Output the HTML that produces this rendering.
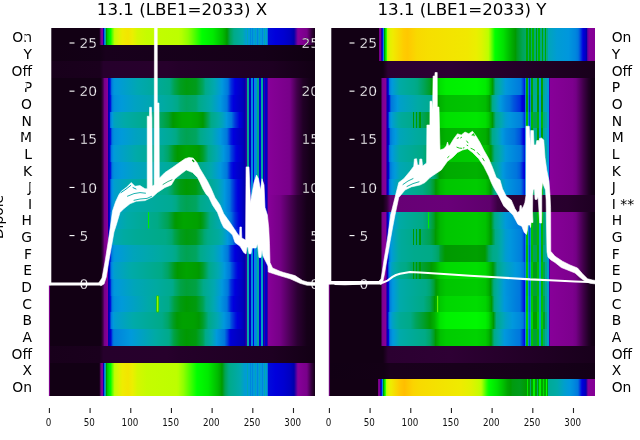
<!DOCTYPE html>
<html lang="en"><head><meta charset="utf-8"><title>13.1 (LBE1=2033)</title>
<style>
html,body{margin:0;padding:0;background:#fff}
body{width:640px;height:440px;overflow:hidden;position:relative}
svg{position:absolute;left:0;top:0;display:block;will-change:transform;-webkit-font-smoothing:antialiased}
text{font-family:"DejaVu Sans","Liberation Sans",sans-serif}
.yl{font-size:13.89px;fill:#000}
.wl{font-size:13.89px;fill:#fff;stroke:#14001a;stroke-width:.3px}
.xl{font-size:9.72px;fill:#111;text-anchor:middle}
.tt{font-size:16.67px;fill:#000;text-anchor:middle}
</style></head><body>
<svg width="640" height="440" viewBox="0 0 640 440">
<defs>
<linearGradient id="l0" gradientUnits="userSpaceOnUse" x1="49" y1="0" x2="315" y2="0"><stop offset="0" stop-color="#120014"/><stop offset="0.188" stop-color="#120014"/><stop offset="0.1898" stop-color="#1d0021"/><stop offset="0.1917" stop-color="#37003f"/><stop offset="0.1955" stop-color="#780089"/><stop offset="0.1992" stop-color="#830094"/><stop offset="0.2011" stop-color="#7f009a"/><stop offset="0.203" stop-color="#5200a0"/><stop offset="0.2049" stop-color="#0000b4"/><stop offset="0.2068" stop-color="#00d"/><stop offset="0.2086" stop-color="#07d"/><stop offset="0.2105" stop-color="#09d"/><stop offset="0.2124" stop-color="#00aaa3"/><stop offset="0.2162" stop-color="#009b00"/><stop offset="0.2199" stop-color="#00c900"/><stop offset="0.2274" stop-color="#00f100"/><stop offset="0.2312" stop-color="#00fc00"/><stop offset="0.2331" stop-color="#0fff00"/><stop offset="0.2368" stop-color="#4bff00"/><stop offset="0.2462" stop-color="#b8ff00"/><stop offset="0.25" stop-color="#c4fc00"/><stop offset="0.2632" stop-color="#dff300"/><stop offset="0.2763" stop-color="#efec00"/><stop offset="0.297" stop-color="#f3e500"/><stop offset="0.3139" stop-color="#ebef00"/><stop offset="0.3327" stop-color="#d4f700"/><stop offset="0.3684" stop-color="#c5fc00"/><stop offset="0.4868" stop-color="#bdfe00"/><stop offset="0.4981" stop-color="#b4ff00"/><stop offset="0.5226" stop-color="#90ff00"/><stop offset="0.5357" stop-color="#70ff00"/><stop offset="0.5752" stop-color="#0f0"/><stop offset="0.6165" stop-color="#00ea00"/><stop offset="0.6523" stop-color="#00bc00"/><stop offset="0.6617" stop-color="#00ab00"/><stop offset="0.6692" stop-color="#090"/><stop offset="0.6805" stop-color="#00a352"/><stop offset="0.6955" stop-color="#0a8"/><stop offset="0.7274" stop-color="#0aa"/><stop offset="0.7425" stop-color="#009cd3"/><stop offset="0.7444" stop-color="#00a7b4"/><stop offset="0.7481" stop-color="#00a7b4"/><stop offset="0.75" stop-color="#009cd4"/><stop offset="0.7538" stop-color="#009cd5"/><stop offset="0.7556" stop-color="#0085dd"/><stop offset="0.7575" stop-color="#0085dd"/><stop offset="0.7594" stop-color="#009bd6"/><stop offset="0.7632" stop-color="#009bd6"/><stop offset="0.765" stop-color="#0085dd"/><stop offset="0.7669" stop-color="#0085dd"/><stop offset="0.7688" stop-color="#009bd7"/><stop offset="0.7726" stop-color="#009bd7"/><stop offset="0.7744" stop-color="#00a3be"/><stop offset="0.7763" stop-color="#00a3be"/><stop offset="0.7782" stop-color="#009bd8"/><stop offset="0.782" stop-color="#009bd8"/><stop offset="0.7838" stop-color="#0085dd"/><stop offset="0.7857" stop-color="#0085dd"/><stop offset="0.7876" stop-color="#009ad9"/><stop offset="0.7895" stop-color="#009ad9"/><stop offset="0.7914" stop-color="#00a3be"/><stop offset="0.7932" stop-color="#00a3be"/><stop offset="0.7951" stop-color="#009ada"/><stop offset="0.7989" stop-color="#009ada"/><stop offset="0.8008" stop-color="#0085dd"/><stop offset="0.8026" stop-color="#0085dd"/><stop offset="0.8045" stop-color="#009adb"/><stop offset="0.8083" stop-color="#009adb"/><stop offset="0.8102" stop-color="#00a7b4"/><stop offset="0.812" stop-color="#00a7b4"/><stop offset="0.8139" stop-color="#0099dc"/><stop offset="0.8158" stop-color="#0099dc"/><stop offset="0.8177" stop-color="#00a3be"/><stop offset="0.8195" stop-color="#00a3be"/><stop offset="0.8214" stop-color="#0079dd"/><stop offset="0.8233" stop-color="#000bdd"/><stop offset="0.8515" stop-color="#0000dc"/><stop offset="0.8816" stop-color="#0000d1"/><stop offset="0.9079" stop-color="#0000c0"/><stop offset="0.9211" stop-color="#00a"/><stop offset="0.9342" stop-color="#7a009b"/><stop offset="0.938" stop-color="#870099"/><stop offset="0.9662" stop-color="#7a008b"/><stop offset="0.9699" stop-color="#708"/><stop offset="0.9868" stop-color="#36003e"/><stop offset="1" stop-color="#120014"/></linearGradient>
<linearGradient id="r0" gradientUnits="userSpaceOnUse" x1="329" y1="0" x2="595" y2="0"><stop offset="0" stop-color="#120014"/><stop offset="0.1861" stop-color="#120014"/><stop offset="0.1898" stop-color="#708"/><stop offset="0.1955" stop-color="#809"/><stop offset="0.1974" stop-color="#2900a5"/><stop offset="0.1992" stop-color="#0000be"/><stop offset="0.2011" stop-color="#0010dd"/><stop offset="0.203" stop-color="#0067dd"/><stop offset="0.2049" stop-color="#008bdd"/><stop offset="0.2068" stop-color="#00aaa0"/><stop offset="0.2086" stop-color="#090"/><stop offset="0.2124" stop-color="#00e400"/><stop offset="0.2143" stop-color="#00f600"/><stop offset="0.2162" stop-color="#32ff00"/><stop offset="0.218" stop-color="#96ff00"/><stop offset="0.2199" stop-color="#b5ff00"/><stop offset="0.2237" stop-color="#cafa00"/><stop offset="0.2293" stop-color="#e4f100"/><stop offset="0.2406" stop-color="#f0eb00"/><stop offset="0.2801" stop-color="#fecd00"/><stop offset="0.2951" stop-color="#ffc800"/><stop offset="0.3308" stop-color="#f8d900"/><stop offset="0.3759" stop-color="#f6df00"/><stop offset="0.5207" stop-color="#f1e800"/><stop offset="0.5545" stop-color="#eaef00"/><stop offset="0.5733" stop-color="#ddf400"/><stop offset="0.5959" stop-color="#c1fd00"/><stop offset="0.5996" stop-color="#b9ff00"/><stop offset="0.6071" stop-color="#87ff00"/><stop offset="0.6241" stop-color="#0f0"/><stop offset="0.656" stop-color="#00e000"/><stop offset="0.6842" stop-color="#00b100"/><stop offset="0.7011" stop-color="#009a00"/><stop offset="0.7068" stop-color="#009c1b"/><stop offset="0.7274" stop-color="#00a455"/><stop offset="0.7406" stop-color="#00a76d"/><stop offset="0.7425" stop-color="#00a700"/><stop offset="0.7462" stop-color="#00a700"/><stop offset="0.7481" stop-color="#00a76f"/><stop offset="0.7519" stop-color="#00a771"/><stop offset="0.7538" stop-color="#00a700"/><stop offset="0.7575" stop-color="#00a700"/><stop offset="0.7594" stop-color="#00a773"/><stop offset="0.7632" stop-color="#00a874"/><stop offset="0.765" stop-color="#00b400"/><stop offset="0.7707" stop-color="#00b400"/><stop offset="0.7726" stop-color="#00a877"/><stop offset="0.7763" stop-color="#00a879"/><stop offset="0.7782" stop-color="#00a000"/><stop offset="0.7801" stop-color="#00a000"/><stop offset="0.782" stop-color="#00a87a"/><stop offset="0.7857" stop-color="#00a87c"/><stop offset="0.7876" stop-color="#00b400"/><stop offset="0.7932" stop-color="#00b400"/><stop offset="0.7951" stop-color="#00a97f"/><stop offset="0.7989" stop-color="#00a980"/><stop offset="0.8008" stop-color="#00a700"/><stop offset="0.8026" stop-color="#00a700"/><stop offset="0.8045" stop-color="#00a982"/><stop offset="0.8102" stop-color="#00a984"/><stop offset="0.812" stop-color="#00a700"/><stop offset="0.8158" stop-color="#00a700"/><stop offset="0.8177" stop-color="#00aa86"/><stop offset="0.8233" stop-color="#0a8"/><stop offset="0.8252" stop-color="#00a5ba"/><stop offset="0.8571" stop-color="#009cd4"/><stop offset="0.9004" stop-color="#0097dd"/><stop offset="0.9267" stop-color="#0086dd"/><stop offset="0.9361" stop-color="#0079dd"/><stop offset="0.9398" stop-color="#0068dd"/><stop offset="0.9455" stop-color="#0045dd"/><stop offset="0.9549" stop-color="#00d"/><stop offset="0.9662" stop-color="#0000be"/><stop offset="0.968" stop-color="#0000ad"/><stop offset="0.9699" stop-color="#2400a5"/><stop offset="0.9718" stop-color="#5200a0"/><stop offset="0.9774" stop-color="#809"/><stop offset="1" stop-color="#830094"/></linearGradient>
<linearGradient id="l1" gradientUnits="userSpaceOnUse" x1="49" y1="0" x2="315" y2="0"><stop offset="0" stop-color="#120014"/><stop offset="0.1917" stop-color="#130016"/><stop offset="0.2124" stop-color="#18001c"/><stop offset="0.8064" stop-color="#150018"/><stop offset="1" stop-color="#0f0011"/></linearGradient>
<linearGradient id="r1" gradientUnits="userSpaceOnUse" x1="329" y1="0" x2="595" y2="0"><stop offset="0" stop-color="#120014"/><stop offset="0.1861" stop-color="#120014"/><stop offset="0.1898" stop-color="#708"/><stop offset="0.1955" stop-color="#809"/><stop offset="0.1974" stop-color="#2900a5"/><stop offset="0.1992" stop-color="#0000be"/><stop offset="0.2011" stop-color="#0010dd"/><stop offset="0.203" stop-color="#0067dd"/><stop offset="0.2049" stop-color="#008bdd"/><stop offset="0.2068" stop-color="#00aaa0"/><stop offset="0.2086" stop-color="#090"/><stop offset="0.2124" stop-color="#00e400"/><stop offset="0.2143" stop-color="#00f600"/><stop offset="0.2162" stop-color="#32ff00"/><stop offset="0.218" stop-color="#96ff00"/><stop offset="0.2199" stop-color="#b5ff00"/><stop offset="0.2237" stop-color="#cafa00"/><stop offset="0.2293" stop-color="#e4f100"/><stop offset="0.2406" stop-color="#f0eb00"/><stop offset="0.2801" stop-color="#fecd00"/><stop offset="0.2951" stop-color="#ffc800"/><stop offset="0.3308" stop-color="#f8d900"/><stop offset="0.3759" stop-color="#f6df00"/><stop offset="0.5207" stop-color="#f1e800"/><stop offset="0.5545" stop-color="#eaef00"/><stop offset="0.5733" stop-color="#ddf400"/><stop offset="0.5959" stop-color="#c1fd00"/><stop offset="0.5996" stop-color="#b9ff00"/><stop offset="0.6071" stop-color="#87ff00"/><stop offset="0.6241" stop-color="#0f0"/><stop offset="0.656" stop-color="#00e000"/><stop offset="0.6842" stop-color="#00b100"/><stop offset="0.7011" stop-color="#009a00"/><stop offset="0.7068" stop-color="#009c1b"/><stop offset="0.7274" stop-color="#00a455"/><stop offset="0.7406" stop-color="#00a76d"/><stop offset="0.7425" stop-color="#00a700"/><stop offset="0.7462" stop-color="#00a700"/><stop offset="0.7481" stop-color="#00a76f"/><stop offset="0.7519" stop-color="#00a771"/><stop offset="0.7538" stop-color="#00a700"/><stop offset="0.7575" stop-color="#00a700"/><stop offset="0.7594" stop-color="#00a773"/><stop offset="0.7632" stop-color="#00a874"/><stop offset="0.765" stop-color="#00b400"/><stop offset="0.7707" stop-color="#00b400"/><stop offset="0.7726" stop-color="#00a877"/><stop offset="0.7763" stop-color="#00a879"/><stop offset="0.7782" stop-color="#00a000"/><stop offset="0.7801" stop-color="#00a000"/><stop offset="0.782" stop-color="#00a87a"/><stop offset="0.7857" stop-color="#00a87c"/><stop offset="0.7876" stop-color="#00b400"/><stop offset="0.7932" stop-color="#00b400"/><stop offset="0.7951" stop-color="#00a97f"/><stop offset="0.7989" stop-color="#00a980"/><stop offset="0.8008" stop-color="#00a700"/><stop offset="0.8026" stop-color="#00a700"/><stop offset="0.8045" stop-color="#00a982"/><stop offset="0.8102" stop-color="#00a984"/><stop offset="0.812" stop-color="#00a700"/><stop offset="0.8158" stop-color="#00a700"/><stop offset="0.8177" stop-color="#00aa86"/><stop offset="0.8233" stop-color="#0a8"/><stop offset="0.8252" stop-color="#00a5ba"/><stop offset="0.8571" stop-color="#009cd4"/><stop offset="0.9004" stop-color="#0097dd"/><stop offset="0.9267" stop-color="#0086dd"/><stop offset="0.9361" stop-color="#0079dd"/><stop offset="0.9398" stop-color="#0068dd"/><stop offset="0.9455" stop-color="#0045dd"/><stop offset="0.9549" stop-color="#00d"/><stop offset="0.9662" stop-color="#0000be"/><stop offset="0.968" stop-color="#0000ad"/><stop offset="0.9699" stop-color="#2400a5"/><stop offset="0.9718" stop-color="#5200a0"/><stop offset="0.9774" stop-color="#809"/><stop offset="1" stop-color="#830094"/></linearGradient>
<linearGradient id="l2" gradientUnits="userSpaceOnUse" x1="49" y1="0" x2="315" y2="0"><stop offset="0" stop-color="#18001b"/><stop offset="0.1898" stop-color="#1a001d"/><stop offset="0.2049" stop-color="#26002c"/><stop offset="0.4436" stop-color="#27002c"/><stop offset="0.4906" stop-color="#240029"/><stop offset="0.8383" stop-color="#1e0022"/><stop offset="1" stop-color="#120014"/></linearGradient>
<linearGradient id="r2" gradientUnits="userSpaceOnUse" x1="329" y1="0" x2="595" y2="0"><stop offset="0" stop-color="#120014"/><stop offset="0.203" stop-color="#120014"/><stop offset="0.2218" stop-color="#2b0031"/><stop offset="0.453" stop-color="#2e0034"/><stop offset="1" stop-color="#18001b"/></linearGradient>
<linearGradient id="l3" gradientUnits="userSpaceOnUse" x1="49" y1="0" x2="315" y2="0"><stop offset="0" stop-color="#120014"/><stop offset="0.1936" stop-color="#120014"/><stop offset="0.1992" stop-color="#240029"/><stop offset="0.2049" stop-color="#53005f"/><stop offset="0.2086" stop-color="#780089"/><stop offset="0.2199" stop-color="#809"/><stop offset="0.2237" stop-color="#00a"/><stop offset="0.2293" stop-color="#00d"/><stop offset="0.235" stop-color="#006bdd"/><stop offset="0.2368" stop-color="#007edd"/><stop offset="0.2444" stop-color="#0096dd"/><stop offset="0.2575" stop-color="#009ad9"/><stop offset="0.3346" stop-color="#00a8b1"/><stop offset="0.453" stop-color="#0a8"/><stop offset="0.4662" stop-color="#00a55f"/><stop offset="0.4718" stop-color="#00a34e"/><stop offset="0.4944" stop-color="#009d1f"/><stop offset="0.5169" stop-color="#009b0e"/><stop offset="0.5526" stop-color="#009c1b"/><stop offset="0.5789" stop-color="#00a55f"/><stop offset="0.5883" stop-color="#0a8"/><stop offset="0.6222" stop-color="#00a8b1"/><stop offset="0.6504" stop-color="#09d"/><stop offset="0.6729" stop-color="#07d"/><stop offset="0.6842" stop-color="#0030dd"/><stop offset="0.6992" stop-color="#00d"/><stop offset="0.7237" stop-color="#0000c5"/><stop offset="0.735" stop-color="#0000ae"/><stop offset="0.7368" stop-color="#0500a9"/><stop offset="0.7425" stop-color="#3600a3"/><stop offset="0.7444" stop-color="#00aa8f"/><stop offset="0.75" stop-color="#00aa8f"/><stop offset="0.7519" stop-color="#0000be"/><stop offset="0.7575" stop-color="#0000be"/><stop offset="0.7594" stop-color="#008bdd"/><stop offset="0.765" stop-color="#008bdd"/><stop offset="0.7669" stop-color="#00d"/><stop offset="0.7688" stop-color="#00d"/><stop offset="0.7707" stop-color="#008bdd"/><stop offset="0.7801" stop-color="#008bdd"/><stop offset="0.782" stop-color="#0a8"/><stop offset="0.7876" stop-color="#0a8"/><stop offset="0.7895" stop-color="#00d"/><stop offset="0.7951" stop-color="#00d"/><stop offset="0.797" stop-color="#00aa9c"/><stop offset="0.8045" stop-color="#00aa9c"/><stop offset="0.8064" stop-color="#0000c9"/><stop offset="0.8083" stop-color="#0000c9"/><stop offset="0.8102" stop-color="#3600a3"/><stop offset="0.812" stop-color="#0000c9"/><stop offset="0.8177" stop-color="#0000c9"/><stop offset="0.8195" stop-color="#3600a3"/><stop offset="0.8214" stop-color="#3600a3"/><stop offset="0.8233" stop-color="#65009d"/><stop offset="0.8252" stop-color="#870098"/><stop offset="0.9004" stop-color="#79008a"/><stop offset="0.906" stop-color="#708"/><stop offset="0.9323" stop-color="#400049"/><stop offset="0.9549" stop-color="#210026"/><stop offset="0.9793" stop-color="#150018"/><stop offset="1" stop-color="#120014"/></linearGradient>
<linearGradient id="r3" gradientUnits="userSpaceOnUse" x1="329" y1="0" x2="595" y2="0"><stop offset="0" stop-color="#120014"/><stop offset="0.1936" stop-color="#120014"/><stop offset="0.1974" stop-color="#470052"/><stop offset="0.1992" stop-color="#6f007f"/><stop offset="0.2011" stop-color="#7c008d"/><stop offset="0.2049" stop-color="#830094"/><stop offset="0.2143" stop-color="#809"/><stop offset="0.218" stop-color="#00a"/><stop offset="0.2218" stop-color="#0000d3"/><stop offset="0.2237" stop-color="#0018dd"/><stop offset="0.2274" stop-color="#07d"/><stop offset="0.2293" stop-color="#0085dd"/><stop offset="0.2368" stop-color="#09d"/><stop offset="0.265" stop-color="#00aaa6"/><stop offset="0.3214" stop-color="#00aa8c"/><stop offset="0.3327" stop-color="#00a983"/><stop offset="0.3553" stop-color="#00a45b"/><stop offset="0.3797" stop-color="#009e26"/><stop offset="0.3853" stop-color="#009a05"/><stop offset="0.3872" stop-color="#009a00"/><stop offset="0.3985" stop-color="#00ae00"/><stop offset="0.4098" stop-color="#00cd00"/><stop offset="0.4173" stop-color="#00e000"/><stop offset="0.4398" stop-color="#0e0"/><stop offset="0.5545" stop-color="#00f500"/><stop offset="0.5883" stop-color="#00eb00"/><stop offset="0.5996" stop-color="#00d800"/><stop offset="0.6147" stop-color="#009d00"/><stop offset="0.6165" stop-color="#009b10"/><stop offset="0.6241" stop-color="#00a876"/><stop offset="0.6259" stop-color="#00aa8a"/><stop offset="0.6335" stop-color="#00aa9c"/><stop offset="0.6447" stop-color="#00a7b3"/><stop offset="0.6635" stop-color="#009ada"/><stop offset="0.6786" stop-color="#0091dd"/><stop offset="0.7199" stop-color="#007add"/><stop offset="0.7218" stop-color="#07d"/><stop offset="0.7331" stop-color="#0030dd"/><stop offset="0.7368" stop-color="#0010dd"/><stop offset="0.7387" stop-color="#007edd"/><stop offset="0.7406" stop-color="#007edd"/><stop offset="0.7425" stop-color="#00a700"/><stop offset="0.7481" stop-color="#00a700"/><stop offset="0.75" stop-color="#0085dd"/><stop offset="0.7519" stop-color="#0030dd"/><stop offset="0.7538" stop-color="#0030dd"/><stop offset="0.7556" stop-color="#0085dd"/><stop offset="0.7575" stop-color="#0085dd"/><stop offset="0.7594" stop-color="#00a700"/><stop offset="0.765" stop-color="#00a700"/><stop offset="0.7669" stop-color="#00aa8f"/><stop offset="0.7801" stop-color="#00aa8f"/><stop offset="0.782" stop-color="#00a000"/><stop offset="0.7876" stop-color="#00a000"/><stop offset="0.7895" stop-color="#09d"/><stop offset="0.7951" stop-color="#09d"/><stop offset="0.797" stop-color="#00a000"/><stop offset="0.8026" stop-color="#00a000"/><stop offset="0.8045" stop-color="#00aa9c"/><stop offset="0.8102" stop-color="#00aa9c"/><stop offset="0.812" stop-color="#00a7b4"/><stop offset="0.8177" stop-color="#00a7b4"/><stop offset="0.8195" stop-color="#09d"/><stop offset="0.8252" stop-color="#09d"/><stop offset="0.8271" stop-color="#0000d3"/><stop offset="0.8289" stop-color="#4900a1"/><stop offset="0.8308" stop-color="#77009b"/><stop offset="0.8327" stop-color="#870098"/><stop offset="0.9154" stop-color="#7d008e"/><stop offset="0.9286" stop-color="#740085"/><stop offset="0.9568" stop-color="#3f0048"/><stop offset="0.9756" stop-color="#210026"/><stop offset="0.9868" stop-color="#150018"/><stop offset="1" stop-color="#110013"/></linearGradient>
<linearGradient id="l4" gradientUnits="userSpaceOnUse" x1="49" y1="0" x2="315" y2="0"><stop offset="0" stop-color="#120014"/><stop offset="0.1936" stop-color="#120014"/><stop offset="0.1992" stop-color="#240029"/><stop offset="0.2049" stop-color="#53005f"/><stop offset="0.2086" stop-color="#780089"/><stop offset="0.2199" stop-color="#809"/><stop offset="0.2237" stop-color="#00a"/><stop offset="0.2293" stop-color="#0000d6"/><stop offset="0.2312" stop-color="#000edd"/><stop offset="0.2368" stop-color="#07d"/><stop offset="0.2444" stop-color="#008fdd"/><stop offset="0.2726" stop-color="#009ada"/><stop offset="0.3214" stop-color="#00a2c3"/><stop offset="0.4305" stop-color="#00aaa2"/><stop offset="0.4624" stop-color="#00aa96"/><stop offset="0.4831" stop-color="#00aa87"/><stop offset="0.4944" stop-color="#00a771"/><stop offset="0.5169" stop-color="#00a560"/><stop offset="0.5526" stop-color="#00a76d"/><stop offset="0.5639" stop-color="#0a8"/><stop offset="0.609" stop-color="#00a9ad"/><stop offset="0.6447" stop-color="#0098dd"/><stop offset="0.6692" stop-color="#07d"/><stop offset="0.6842" stop-color="#0018dd"/><stop offset="0.6936" stop-color="#00d"/><stop offset="0.7256" stop-color="#0000c0"/><stop offset="0.7331" stop-color="#0000b4"/><stop offset="0.735" stop-color="#0000ae"/><stop offset="0.7368" stop-color="#0500a9"/><stop offset="0.7425" stop-color="#3600a3"/><stop offset="0.7444" stop-color="#00aa8f"/><stop offset="0.75" stop-color="#00aa8f"/><stop offset="0.7519" stop-color="#0000be"/><stop offset="0.7575" stop-color="#0000be"/><stop offset="0.7594" stop-color="#008bdd"/><stop offset="0.765" stop-color="#008bdd"/><stop offset="0.7669" stop-color="#00d"/><stop offset="0.7688" stop-color="#00d"/><stop offset="0.7707" stop-color="#008bdd"/><stop offset="0.7801" stop-color="#008bdd"/><stop offset="0.782" stop-color="#0a8"/><stop offset="0.7876" stop-color="#0a8"/><stop offset="0.7895" stop-color="#00d"/><stop offset="0.7951" stop-color="#00d"/><stop offset="0.797" stop-color="#00aa9c"/><stop offset="0.8045" stop-color="#00aa9c"/><stop offset="0.8064" stop-color="#0000c9"/><stop offset="0.8083" stop-color="#0000c9"/><stop offset="0.8102" stop-color="#3600a3"/><stop offset="0.812" stop-color="#0000c9"/><stop offset="0.8177" stop-color="#0000c9"/><stop offset="0.8195" stop-color="#3600a3"/><stop offset="0.8214" stop-color="#3600a3"/><stop offset="0.8233" stop-color="#65009d"/><stop offset="0.8252" stop-color="#870098"/><stop offset="0.9004" stop-color="#79008a"/><stop offset="0.906" stop-color="#708"/><stop offset="0.9323" stop-color="#400049"/><stop offset="0.9549" stop-color="#210026"/><stop offset="0.9793" stop-color="#150018"/><stop offset="1" stop-color="#120014"/></linearGradient>
<linearGradient id="r4" gradientUnits="userSpaceOnUse" x1="329" y1="0" x2="595" y2="0"><stop offset="0" stop-color="#120014"/><stop offset="0.1936" stop-color="#120014"/><stop offset="0.1974" stop-color="#470052"/><stop offset="0.1992" stop-color="#6f007f"/><stop offset="0.2011" stop-color="#7c008d"/><stop offset="0.2049" stop-color="#830094"/><stop offset="0.2143" stop-color="#809"/><stop offset="0.218" stop-color="#00a"/><stop offset="0.2199" stop-color="#0000b8"/><stop offset="0.2237" stop-color="#0000c5"/><stop offset="0.2256" stop-color="#0000d3"/><stop offset="0.2274" stop-color="#0018dd"/><stop offset="0.2293" stop-color="#0047dd"/><stop offset="0.2331" stop-color="#006bdd"/><stop offset="0.235" stop-color="#0079dd"/><stop offset="0.2575" stop-color="#0099dc"/><stop offset="0.2688" stop-color="#00a0c8"/><stop offset="0.3346" stop-color="#00aaa4"/><stop offset="0.3816" stop-color="#00aa90"/><stop offset="0.3872" stop-color="#00aa89"/><stop offset="0.3947" stop-color="#00a669"/><stop offset="0.4079" stop-color="#009a00"/><stop offset="0.4173" stop-color="#00b100"/><stop offset="0.4398" stop-color="#00bf00"/><stop offset="0.5545" stop-color="#00c500"/><stop offset="0.5883" stop-color="#00bc00"/><stop offset="0.5996" stop-color="#00a900"/><stop offset="0.6034" stop-color="#009d00"/><stop offset="0.6053" stop-color="#009a09"/><stop offset="0.6147" stop-color="#00aa85"/><stop offset="0.6222" stop-color="#00aa9d"/><stop offset="0.6353" stop-color="#00a2c4"/><stop offset="0.6447" stop-color="#0099dc"/><stop offset="0.6654" stop-color="#007fdd"/><stop offset="0.6786" stop-color="#0074dd"/><stop offset="0.6936" stop-color="#0056dd"/><stop offset="0.718" stop-color="#0030dd"/><stop offset="0.7256" stop-color="#00d"/><stop offset="0.735" stop-color="#0000c6"/><stop offset="0.7368" stop-color="#0000c4"/><stop offset="0.7387" stop-color="#007bdd"/><stop offset="0.7406" stop-color="#007bdd"/><stop offset="0.7425" stop-color="#00a000"/><stop offset="0.7481" stop-color="#00a000"/><stop offset="0.75" stop-color="#0082dd"/><stop offset="0.7519" stop-color="#0026dd"/><stop offset="0.7538" stop-color="#0026dd"/><stop offset="0.7556" stop-color="#0082dd"/><stop offset="0.7575" stop-color="#0082dd"/><stop offset="0.7594" stop-color="#00a000"/><stop offset="0.765" stop-color="#00a000"/><stop offset="0.7669" stop-color="#00aa96"/><stop offset="0.7801" stop-color="#00aa96"/><stop offset="0.782" stop-color="#090"/><stop offset="0.7876" stop-color="#090"/><stop offset="0.7895" stop-color="#0096dd"/><stop offset="0.7951" stop-color="#0096dd"/><stop offset="0.797" stop-color="#090"/><stop offset="0.8026" stop-color="#090"/><stop offset="0.8045" stop-color="#00aaa3"/><stop offset="0.8102" stop-color="#00aaa3"/><stop offset="0.812" stop-color="#00a3be"/><stop offset="0.8177" stop-color="#00a3be"/><stop offset="0.8195" stop-color="#0096dd"/><stop offset="0.8252" stop-color="#0096dd"/><stop offset="0.8271" stop-color="#0000be"/><stop offset="0.8289" stop-color="#4900a1"/><stop offset="0.8308" stop-color="#77009b"/><stop offset="0.8327" stop-color="#870098"/><stop offset="0.9154" stop-color="#7d008e"/><stop offset="0.9286" stop-color="#740085"/><stop offset="0.9568" stop-color="#3f0048"/><stop offset="0.9756" stop-color="#210026"/><stop offset="0.9868" stop-color="#150018"/><stop offset="1" stop-color="#110013"/></linearGradient>
<linearGradient id="l5" gradientUnits="userSpaceOnUse" x1="49" y1="0" x2="315" y2="0"><stop offset="0" stop-color="#120014"/><stop offset="0.1936" stop-color="#120014"/><stop offset="0.1992" stop-color="#240029"/><stop offset="0.2049" stop-color="#53005f"/><stop offset="0.2086" stop-color="#780089"/><stop offset="0.2199" stop-color="#809"/><stop offset="0.2237" stop-color="#00a"/><stop offset="0.2256" stop-color="#0000bf"/><stop offset="0.2274" stop-color="#0000da"/><stop offset="0.2312" stop-color="#0070dd"/><stop offset="0.2331" stop-color="#0081dd"/><stop offset="0.2368" stop-color="#0096dd"/><stop offset="0.2387" stop-color="#009ad9"/><stop offset="0.2444" stop-color="#00a3be"/><stop offset="0.2857" stop-color="#00aaa7"/><stop offset="0.3891" stop-color="#00aa85"/><stop offset="0.4286" stop-color="#00a454"/><stop offset="0.4492" stop-color="#009f34"/><stop offset="0.4662" stop-color="#090"/><stop offset="0.5" stop-color="#0a0"/><stop offset="0.532" stop-color="#00ac00"/><stop offset="0.5583" stop-color="#00a600"/><stop offset="0.5789" stop-color="#090"/><stop offset="0.6015" stop-color="#00a561"/><stop offset="0.609" stop-color="#00aa85"/><stop offset="0.6372" stop-color="#00aaa6"/><stop offset="0.6541" stop-color="#00a2c1"/><stop offset="0.6673" stop-color="#0098dd"/><stop offset="0.6861" stop-color="#0078dd"/><stop offset="0.6992" stop-color="#0038dd"/><stop offset="0.7162" stop-color="#00d"/><stop offset="0.7237" stop-color="#0000cf"/><stop offset="0.735" stop-color="#0000ae"/><stop offset="0.7368" stop-color="#0500a9"/><stop offset="0.7425" stop-color="#3600a3"/><stop offset="0.7444" stop-color="#00aa8f"/><stop offset="0.75" stop-color="#00aa8f"/><stop offset="0.7519" stop-color="#0000be"/><stop offset="0.7575" stop-color="#0000be"/><stop offset="0.7594" stop-color="#008bdd"/><stop offset="0.765" stop-color="#008bdd"/><stop offset="0.7669" stop-color="#00d"/><stop offset="0.7688" stop-color="#00d"/><stop offset="0.7707" stop-color="#008bdd"/><stop offset="0.7801" stop-color="#008bdd"/><stop offset="0.782" stop-color="#0a8"/><stop offset="0.7876" stop-color="#0a8"/><stop offset="0.7895" stop-color="#00d"/><stop offset="0.7951" stop-color="#00d"/><stop offset="0.797" stop-color="#00aa9c"/><stop offset="0.8045" stop-color="#00aa9c"/><stop offset="0.8064" stop-color="#0000c9"/><stop offset="0.8083" stop-color="#0000c9"/><stop offset="0.8102" stop-color="#3600a3"/><stop offset="0.812" stop-color="#0000c9"/><stop offset="0.8177" stop-color="#0000c9"/><stop offset="0.8195" stop-color="#3600a3"/><stop offset="0.8214" stop-color="#3600a3"/><stop offset="0.8233" stop-color="#65009d"/><stop offset="0.8252" stop-color="#870098"/><stop offset="0.9004" stop-color="#79008a"/><stop offset="0.906" stop-color="#708"/><stop offset="0.9323" stop-color="#400049"/><stop offset="0.9549" stop-color="#210026"/><stop offset="0.9793" stop-color="#150018"/><stop offset="1" stop-color="#120014"/></linearGradient>
<linearGradient id="r5" gradientUnits="userSpaceOnUse" x1="329" y1="0" x2="595" y2="0"><stop offset="0" stop-color="#120014"/><stop offset="0.1936" stop-color="#120014"/><stop offset="0.1974" stop-color="#470052"/><stop offset="0.1992" stop-color="#6f007f"/><stop offset="0.2011" stop-color="#7c008d"/><stop offset="0.2049" stop-color="#830094"/><stop offset="0.2143" stop-color="#809"/><stop offset="0.218" stop-color="#00a"/><stop offset="0.2218" stop-color="#0000d8"/><stop offset="0.2237" stop-color="#002cdd"/><stop offset="0.2256" stop-color="#005fdd"/><stop offset="0.2274" stop-color="#007edd"/><stop offset="0.2293" stop-color="#008bdd"/><stop offset="0.235" stop-color="#009ada"/><stop offset="0.2387" stop-color="#009ecf"/><stop offset="0.2613" stop-color="#00aaa4"/><stop offset="0.2707" stop-color="#00aa9b"/><stop offset="0.3139" stop-color="#00aa8b"/><stop offset="0.3158" stop-color="#009a00"/><stop offset="0.3195" stop-color="#009a00"/><stop offset="0.3214" stop-color="#00a984"/><stop offset="0.3252" stop-color="#00a97d"/><stop offset="0.3271" stop-color="#009c00"/><stop offset="0.3308" stop-color="#009c00"/><stop offset="0.3327" stop-color="#00a773"/><stop offset="0.3383" stop-color="#00a66c"/><stop offset="0.3402" stop-color="#009a00"/><stop offset="0.344" stop-color="#009a00"/><stop offset="0.3459" stop-color="#00a562"/><stop offset="0.3797" stop-color="#009e27"/><stop offset="0.3872" stop-color="#009a04"/><stop offset="0.391" stop-color="#009c00"/><stop offset="0.406" stop-color="#00b700"/><stop offset="0.4173" stop-color="#00d300"/><stop offset="0.4398" stop-color="#00e100"/><stop offset="0.5545" stop-color="#00e700"/><stop offset="0.5883" stop-color="#00de00"/><stop offset="0.5996" stop-color="#00cb00"/><stop offset="0.6147" stop-color="#009a00"/><stop offset="0.6259" stop-color="#00a97d"/><stop offset="0.6278" stop-color="#00aa8a"/><stop offset="0.6485" stop-color="#00a8b1"/><stop offset="0.6635" stop-color="#009dd0"/><stop offset="0.6805" stop-color="#0097dd"/><stop offset="0.7199" stop-color="#0081dd"/><stop offset="0.7256" stop-color="#07d"/><stop offset="0.7331" stop-color="#0047dd"/><stop offset="0.7368" stop-color="#02d"/><stop offset="0.7387" stop-color="#0086dd"/><stop offset="0.7406" stop-color="#0086dd"/><stop offset="0.7425" stop-color="#0b0"/><stop offset="0.7481" stop-color="#0b0"/><stop offset="0.75" stop-color="#008ddd"/><stop offset="0.7519" stop-color="#004cdd"/><stop offset="0.7538" stop-color="#004cdd"/><stop offset="0.7556" stop-color="#008ddd"/><stop offset="0.7575" stop-color="#008ddd"/><stop offset="0.7594" stop-color="#0b0"/><stop offset="0.765" stop-color="#0b0"/><stop offset="0.7669" stop-color="#00a352"/><stop offset="0.7801" stop-color="#00a352"/><stop offset="0.782" stop-color="#00b400"/><stop offset="0.7876" stop-color="#00b400"/><stop offset="0.7895" stop-color="#009dd1"/><stop offset="0.7951" stop-color="#009dd1"/><stop offset="0.797" stop-color="#00b400"/><stop offset="0.8026" stop-color="#00b400"/><stop offset="0.8045" stop-color="#0a8"/><stop offset="0.8102" stop-color="#0a8"/><stop offset="0.812" stop-color="#00aa9c"/><stop offset="0.8177" stop-color="#00aa9c"/><stop offset="0.8195" stop-color="#009dd1"/><stop offset="0.8252" stop-color="#009dd1"/><stop offset="0.8271" stop-color="#0000d8"/><stop offset="0.8289" stop-color="#4900a1"/><stop offset="0.8308" stop-color="#77009b"/><stop offset="0.8327" stop-color="#870098"/><stop offset="0.9154" stop-color="#7d008e"/><stop offset="0.9286" stop-color="#740085"/><stop offset="0.9568" stop-color="#3f0048"/><stop offset="0.9756" stop-color="#210026"/><stop offset="0.9868" stop-color="#150018"/><stop offset="1" stop-color="#110013"/></linearGradient>
<linearGradient id="l6" gradientUnits="userSpaceOnUse" x1="49" y1="0" x2="315" y2="0"><stop offset="0" stop-color="#120014"/><stop offset="0.1936" stop-color="#120014"/><stop offset="0.1992" stop-color="#240029"/><stop offset="0.2049" stop-color="#53005f"/><stop offset="0.2086" stop-color="#780089"/><stop offset="0.2199" stop-color="#809"/><stop offset="0.2237" stop-color="#00a"/><stop offset="0.2293" stop-color="#0000d6"/><stop offset="0.2312" stop-color="#000edd"/><stop offset="0.2368" stop-color="#07d"/><stop offset="0.2444" stop-color="#008fdd"/><stop offset="0.2726" stop-color="#009ada"/><stop offset="0.3252" stop-color="#00a2c1"/><stop offset="0.4211" stop-color="#00aaa3"/><stop offset="0.4586" stop-color="#00aa94"/><stop offset="0.4774" stop-color="#00aa85"/><stop offset="0.4944" stop-color="#00a563"/><stop offset="0.5169" stop-color="#00a352"/><stop offset="0.5526" stop-color="#00a55f"/><stop offset="0.5695" stop-color="#00aa89"/><stop offset="0.6109" stop-color="#00a9ae"/><stop offset="0.6447" stop-color="#0098dd"/><stop offset="0.6692" stop-color="#07d"/><stop offset="0.6842" stop-color="#0018dd"/><stop offset="0.6936" stop-color="#00d"/><stop offset="0.7256" stop-color="#0000c0"/><stop offset="0.7331" stop-color="#0000b4"/><stop offset="0.735" stop-color="#0000ae"/><stop offset="0.7368" stop-color="#0500a9"/><stop offset="0.7425" stop-color="#3600a3"/><stop offset="0.7444" stop-color="#00aa8f"/><stop offset="0.75" stop-color="#00aa8f"/><stop offset="0.7519" stop-color="#0000be"/><stop offset="0.7575" stop-color="#0000be"/><stop offset="0.7594" stop-color="#008bdd"/><stop offset="0.765" stop-color="#008bdd"/><stop offset="0.7669" stop-color="#00d"/><stop offset="0.7688" stop-color="#00d"/><stop offset="0.7707" stop-color="#008bdd"/><stop offset="0.7801" stop-color="#008bdd"/><stop offset="0.782" stop-color="#0a8"/><stop offset="0.7876" stop-color="#0a8"/><stop offset="0.7895" stop-color="#00d"/><stop offset="0.7951" stop-color="#00d"/><stop offset="0.797" stop-color="#00aa9c"/><stop offset="0.8045" stop-color="#00aa9c"/><stop offset="0.8064" stop-color="#0000c9"/><stop offset="0.8083" stop-color="#0000c9"/><stop offset="0.8102" stop-color="#3600a3"/><stop offset="0.812" stop-color="#0000c9"/><stop offset="0.8177" stop-color="#0000c9"/><stop offset="0.8195" stop-color="#3600a3"/><stop offset="0.8214" stop-color="#3600a3"/><stop offset="0.8233" stop-color="#65009d"/><stop offset="0.8252" stop-color="#870098"/><stop offset="0.9004" stop-color="#79008a"/><stop offset="0.906" stop-color="#708"/><stop offset="0.9323" stop-color="#400049"/><stop offset="0.9549" stop-color="#210026"/><stop offset="0.9793" stop-color="#150018"/><stop offset="1" stop-color="#120014"/></linearGradient>
<linearGradient id="r6" gradientUnits="userSpaceOnUse" x1="329" y1="0" x2="595" y2="0"><stop offset="0" stop-color="#120014"/><stop offset="0.1936" stop-color="#120014"/><stop offset="0.1974" stop-color="#470052"/><stop offset="0.1992" stop-color="#6f007f"/><stop offset="0.2011" stop-color="#7c008d"/><stop offset="0.2049" stop-color="#830094"/><stop offset="0.2143" stop-color="#809"/><stop offset="0.218" stop-color="#00a"/><stop offset="0.2218" stop-color="#0000c6"/><stop offset="0.2237" stop-color="#0000d2"/><stop offset="0.2256" stop-color="#000cdd"/><stop offset="0.2293" stop-color="#006bdd"/><stop offset="0.2312" stop-color="#0079dd"/><stop offset="0.2387" stop-color="#008bdd"/><stop offset="0.25" stop-color="#0099dc"/><stop offset="0.2669" stop-color="#00a5b9"/><stop offset="0.3252" stop-color="#00aaa0"/><stop offset="0.3835" stop-color="#00aa8d"/><stop offset="0.3891" stop-color="#0a8"/><stop offset="0.3947" stop-color="#00a874"/><stop offset="0.406" stop-color="#009f34"/><stop offset="0.4117" stop-color="#009a06"/><stop offset="0.4135" stop-color="#009b00"/><stop offset="0.4192" stop-color="#00a500"/><stop offset="0.4398" stop-color="#00b100"/><stop offset="0.5545" stop-color="#00b800"/><stop offset="0.5883" stop-color="#00ae00"/><stop offset="0.5996" stop-color="#009b00"/><stop offset="0.6015" stop-color="#009a0a"/><stop offset="0.6147" stop-color="#0a8"/><stop offset="0.6335" stop-color="#00a8af"/><stop offset="0.6504" stop-color="#009ad9"/><stop offset="0.6541" stop-color="#0096dd"/><stop offset="0.6654" stop-color="#0089dd"/><stop offset="0.6974" stop-color="#0074dd"/><stop offset="0.718" stop-color="#0053dd"/><stop offset="0.7312" stop-color="#00d"/><stop offset="0.7368" stop-color="#0000d0"/><stop offset="0.7387" stop-color="#007edd"/><stop offset="0.7406" stop-color="#007edd"/><stop offset="0.7425" stop-color="#00a700"/><stop offset="0.7481" stop-color="#00a700"/><stop offset="0.75" stop-color="#0085dd"/><stop offset="0.7519" stop-color="#0030dd"/><stop offset="0.7538" stop-color="#0030dd"/><stop offset="0.7556" stop-color="#0085dd"/><stop offset="0.7575" stop-color="#0085dd"/><stop offset="0.7594" stop-color="#00a700"/><stop offset="0.765" stop-color="#00a700"/><stop offset="0.7669" stop-color="#00aa8f"/><stop offset="0.7801" stop-color="#00aa8f"/><stop offset="0.782" stop-color="#00a000"/><stop offset="0.7876" stop-color="#00a000"/><stop offset="0.7895" stop-color="#09d"/><stop offset="0.7951" stop-color="#09d"/><stop offset="0.797" stop-color="#00a000"/><stop offset="0.8026" stop-color="#00a000"/><stop offset="0.8045" stop-color="#00aa9c"/><stop offset="0.8102" stop-color="#00aa9c"/><stop offset="0.812" stop-color="#00a7b4"/><stop offset="0.8177" stop-color="#00a7b4"/><stop offset="0.8195" stop-color="#09d"/><stop offset="0.8252" stop-color="#09d"/><stop offset="0.8271" stop-color="#0000c6"/><stop offset="0.8289" stop-color="#4900a1"/><stop offset="0.8308" stop-color="#77009b"/><stop offset="0.8327" stop-color="#870098"/><stop offset="0.9154" stop-color="#7d008e"/><stop offset="0.9286" stop-color="#740085"/><stop offset="0.9568" stop-color="#3f0048"/><stop offset="0.9756" stop-color="#210026"/><stop offset="0.9868" stop-color="#150018"/><stop offset="1" stop-color="#110013"/></linearGradient>
<linearGradient id="l7" gradientUnits="userSpaceOnUse" x1="49" y1="0" x2="315" y2="0"><stop offset="0" stop-color="#120014"/><stop offset="0.1936" stop-color="#120014"/><stop offset="0.1992" stop-color="#240029"/><stop offset="0.2049" stop-color="#53005f"/><stop offset="0.2086" stop-color="#780089"/><stop offset="0.2199" stop-color="#809"/><stop offset="0.2237" stop-color="#00a"/><stop offset="0.2274" stop-color="#0000d0"/><stop offset="0.2293" stop-color="#0010dd"/><stop offset="0.2331" stop-color="#005fdd"/><stop offset="0.235" stop-color="#007add"/><stop offset="0.2387" stop-color="#008bdd"/><stop offset="0.2425" stop-color="#0096dd"/><stop offset="0.2462" stop-color="#009bd7"/><stop offset="0.3271" stop-color="#00aaa9"/><stop offset="0.4286" stop-color="#00aa86"/><stop offset="0.4474" stop-color="#00a667"/><stop offset="0.4718" stop-color="#009c17"/><stop offset="0.4831" stop-color="#090"/><stop offset="0.5169" stop-color="#00a300"/><stop offset="0.5564" stop-color="#009d00"/><stop offset="0.5639" stop-color="#009902"/><stop offset="0.5789" stop-color="#009e29"/><stop offset="0.5996" stop-color="#00aa89"/><stop offset="0.6297" stop-color="#00a7b2"/><stop offset="0.656" stop-color="#0098dd"/><stop offset="0.6767" stop-color="#07d"/><stop offset="0.6842" stop-color="#0047dd"/><stop offset="0.7011" stop-color="#000bdd"/><stop offset="0.7068" stop-color="#0000dc"/><stop offset="0.7237" stop-color="#0000c8"/><stop offset="0.735" stop-color="#0000ae"/><stop offset="0.7368" stop-color="#0500a9"/><stop offset="0.7425" stop-color="#3600a3"/><stop offset="0.7444" stop-color="#00aa8f"/><stop offset="0.75" stop-color="#00aa8f"/><stop offset="0.7519" stop-color="#0000be"/><stop offset="0.7575" stop-color="#0000be"/><stop offset="0.7594" stop-color="#008bdd"/><stop offset="0.765" stop-color="#008bdd"/><stop offset="0.7669" stop-color="#00d"/><stop offset="0.7688" stop-color="#00d"/><stop offset="0.7707" stop-color="#008bdd"/><stop offset="0.7801" stop-color="#008bdd"/><stop offset="0.782" stop-color="#0a8"/><stop offset="0.7876" stop-color="#0a8"/><stop offset="0.7895" stop-color="#00d"/><stop offset="0.7951" stop-color="#00d"/><stop offset="0.797" stop-color="#00aa9c"/><stop offset="0.8045" stop-color="#00aa9c"/><stop offset="0.8064" stop-color="#0000c9"/><stop offset="0.8083" stop-color="#0000c9"/><stop offset="0.8102" stop-color="#3600a3"/><stop offset="0.812" stop-color="#0000c9"/><stop offset="0.8177" stop-color="#0000c9"/><stop offset="0.8195" stop-color="#3600a3"/><stop offset="0.8214" stop-color="#3600a3"/><stop offset="0.8233" stop-color="#65009d"/><stop offset="0.8252" stop-color="#870098"/><stop offset="0.9004" stop-color="#79008a"/><stop offset="0.906" stop-color="#708"/><stop offset="0.9323" stop-color="#400049"/><stop offset="0.9549" stop-color="#210026"/><stop offset="0.9793" stop-color="#150018"/><stop offset="1" stop-color="#120014"/></linearGradient>
<linearGradient id="r7" gradientUnits="userSpaceOnUse" x1="329" y1="0" x2="595" y2="0"><stop offset="0" stop-color="#120014"/><stop offset="0.1936" stop-color="#120014"/><stop offset="0.1974" stop-color="#470052"/><stop offset="0.1992" stop-color="#6f007f"/><stop offset="0.2011" stop-color="#7c008d"/><stop offset="0.2049" stop-color="#830094"/><stop offset="0.2143" stop-color="#809"/><stop offset="0.218" stop-color="#00a"/><stop offset="0.2218" stop-color="#0000d3"/><stop offset="0.2237" stop-color="#0018dd"/><stop offset="0.2274" stop-color="#07d"/><stop offset="0.2293" stop-color="#0085dd"/><stop offset="0.2368" stop-color="#09d"/><stop offset="0.265" stop-color="#00aaa6"/><stop offset="0.3515" stop-color="#00aa85"/><stop offset="0.3797" stop-color="#00a55f"/><stop offset="0.3947" stop-color="#009e29"/><stop offset="0.4004" stop-color="#009a07"/><stop offset="0.4023" stop-color="#009a00"/><stop offset="0.4192" stop-color="#00b900"/><stop offset="0.4398" stop-color="#00c600"/><stop offset="0.5545" stop-color="#0c0"/><stop offset="0.5883" stop-color="#00c200"/><stop offset="0.5996" stop-color="#00af00"/><stop offset="0.6071" stop-color="#009c00"/><stop offset="0.609" stop-color="#009a05"/><stop offset="0.6165" stop-color="#00a352"/><stop offset="0.6222" stop-color="#00a981"/><stop offset="0.6241" stop-color="#00aa8a"/><stop offset="0.6429" stop-color="#00a8af"/><stop offset="0.6635" stop-color="#009ada"/><stop offset="0.6786" stop-color="#0091dd"/><stop offset="0.7199" stop-color="#007add"/><stop offset="0.7218" stop-color="#07d"/><stop offset="0.7331" stop-color="#0030dd"/><stop offset="0.7368" stop-color="#0010dd"/><stop offset="0.7387" stop-color="#0083dd"/><stop offset="0.7406" stop-color="#0083dd"/><stop offset="0.7425" stop-color="#00b400"/><stop offset="0.7481" stop-color="#00b400"/><stop offset="0.75" stop-color="#008add"/><stop offset="0.7519" stop-color="#0043dd"/><stop offset="0.7538" stop-color="#0043dd"/><stop offset="0.7556" stop-color="#008add"/><stop offset="0.7575" stop-color="#008add"/><stop offset="0.7594" stop-color="#00b400"/><stop offset="0.765" stop-color="#00b400"/><stop offset="0.7669" stop-color="#00a76d"/><stop offset="0.7801" stop-color="#00a76d"/><stop offset="0.782" stop-color="#00ad00"/><stop offset="0.7876" stop-color="#00ad00"/><stop offset="0.7895" stop-color="#009cd5"/><stop offset="0.7951" stop-color="#009cd5"/><stop offset="0.797" stop-color="#00ad00"/><stop offset="0.8026" stop-color="#00ad00"/><stop offset="0.8045" stop-color="#00aa8f"/><stop offset="0.8102" stop-color="#00aa8f"/><stop offset="0.812" stop-color="#00aaa3"/><stop offset="0.8177" stop-color="#00aaa3"/><stop offset="0.8195" stop-color="#009cd5"/><stop offset="0.8252" stop-color="#009cd5"/><stop offset="0.8271" stop-color="#0000d3"/><stop offset="0.8289" stop-color="#4900a1"/><stop offset="0.8308" stop-color="#77009b"/><stop offset="0.8327" stop-color="#870098"/><stop offset="0.9154" stop-color="#7d008e"/><stop offset="0.9286" stop-color="#740085"/><stop offset="0.9568" stop-color="#3f0048"/><stop offset="0.9756" stop-color="#210026"/><stop offset="0.9868" stop-color="#150018"/><stop offset="1" stop-color="#110013"/></linearGradient>
<linearGradient id="l8" gradientUnits="userSpaceOnUse" x1="49" y1="0" x2="315" y2="0"><stop offset="0" stop-color="#120014"/><stop offset="0.1936" stop-color="#120014"/><stop offset="0.1992" stop-color="#240029"/><stop offset="0.2049" stop-color="#53005f"/><stop offset="0.2086" stop-color="#780089"/><stop offset="0.2199" stop-color="#809"/><stop offset="0.2237" stop-color="#00a"/><stop offset="0.2293" stop-color="#0000d6"/><stop offset="0.2312" stop-color="#000edd"/><stop offset="0.2368" stop-color="#07d"/><stop offset="0.2444" stop-color="#008fdd"/><stop offset="0.2726" stop-color="#009ada"/><stop offset="0.3214" stop-color="#00a2c3"/><stop offset="0.4305" stop-color="#00aaa2"/><stop offset="0.4624" stop-color="#00aa96"/><stop offset="0.4831" stop-color="#00aa87"/><stop offset="0.4944" stop-color="#00a771"/><stop offset="0.5169" stop-color="#00a560"/><stop offset="0.5526" stop-color="#00a76d"/><stop offset="0.5639" stop-color="#0a8"/><stop offset="0.609" stop-color="#00a9ad"/><stop offset="0.6447" stop-color="#0098dd"/><stop offset="0.6692" stop-color="#07d"/><stop offset="0.6842" stop-color="#0018dd"/><stop offset="0.6936" stop-color="#00d"/><stop offset="0.7256" stop-color="#0000c0"/><stop offset="0.7331" stop-color="#0000b4"/><stop offset="0.735" stop-color="#0000ae"/><stop offset="0.7368" stop-color="#0500a9"/><stop offset="0.7425" stop-color="#3600a3"/><stop offset="0.7444" stop-color="#00aa8f"/><stop offset="0.75" stop-color="#00aa8f"/><stop offset="0.7519" stop-color="#0000be"/><stop offset="0.7575" stop-color="#0000be"/><stop offset="0.7594" stop-color="#008bdd"/><stop offset="0.765" stop-color="#008bdd"/><stop offset="0.7669" stop-color="#00d"/><stop offset="0.7688" stop-color="#00d"/><stop offset="0.7707" stop-color="#008bdd"/><stop offset="0.7801" stop-color="#008bdd"/><stop offset="0.782" stop-color="#0a8"/><stop offset="0.7876" stop-color="#0a8"/><stop offset="0.7895" stop-color="#00d"/><stop offset="0.7951" stop-color="#00d"/><stop offset="0.797" stop-color="#00aa9c"/><stop offset="0.8045" stop-color="#00aa9c"/><stop offset="0.8064" stop-color="#0000c9"/><stop offset="0.8083" stop-color="#0000c9"/><stop offset="0.8102" stop-color="#3600a3"/><stop offset="0.812" stop-color="#0000c9"/><stop offset="0.8177" stop-color="#0000c9"/><stop offset="0.8195" stop-color="#3600a3"/><stop offset="0.8214" stop-color="#3600a3"/><stop offset="0.8233" stop-color="#65009d"/><stop offset="0.8252" stop-color="#870098"/><stop offset="0.9004" stop-color="#79008a"/><stop offset="0.906" stop-color="#708"/><stop offset="0.9323" stop-color="#400049"/><stop offset="0.9549" stop-color="#210026"/><stop offset="0.9793" stop-color="#150018"/><stop offset="1" stop-color="#120014"/></linearGradient>
<linearGradient id="r8" gradientUnits="userSpaceOnUse" x1="329" y1="0" x2="595" y2="0"><stop offset="0" stop-color="#120014"/><stop offset="0.1936" stop-color="#120014"/><stop offset="0.1974" stop-color="#470052"/><stop offset="0.1992" stop-color="#6f007f"/><stop offset="0.2011" stop-color="#7c008d"/><stop offset="0.2049" stop-color="#830094"/><stop offset="0.2143" stop-color="#809"/><stop offset="0.218" stop-color="#00a"/><stop offset="0.2237" stop-color="#0000d6"/><stop offset="0.2256" stop-color="#0018dd"/><stop offset="0.2293" stop-color="#07d"/><stop offset="0.2387" stop-color="#008edd"/><stop offset="0.2481" stop-color="#009ada"/><stop offset="0.2669" stop-color="#00a7b4"/><stop offset="0.3271" stop-color="#00aa9d"/><stop offset="0.3853" stop-color="#00aa8c"/><stop offset="0.391" stop-color="#0a8"/><stop offset="0.3966" stop-color="#00a874"/><stop offset="0.406" stop-color="#00a247"/><stop offset="0.4135" stop-color="#009b12"/><stop offset="0.4154" stop-color="#009902"/><stop offset="0.4398" stop-color="#0a0"/><stop offset="0.5545" stop-color="#00b100"/><stop offset="0.5883" stop-color="#00a700"/><stop offset="0.5977" stop-color="#090"/><stop offset="0.6034" stop-color="#009f33"/><stop offset="0.6128" stop-color="#00a97f"/><stop offset="0.6147" stop-color="#00aa8a"/><stop offset="0.6353" stop-color="#00a8af"/><stop offset="0.6541" stop-color="#0099dc"/><stop offset="0.6673" stop-color="#008bdd"/><stop offset="0.7049" stop-color="#0074dd"/><stop offset="0.718" stop-color="#005fdd"/><stop offset="0.7331" stop-color="#00d"/><stop offset="0.7368" stop-color="#0000d4"/><stop offset="0.7387" stop-color="#007edd"/><stop offset="0.7406" stop-color="#007edd"/><stop offset="0.7425" stop-color="#00a700"/><stop offset="0.7481" stop-color="#00a700"/><stop offset="0.75" stop-color="#0085dd"/><stop offset="0.7519" stop-color="#0030dd"/><stop offset="0.7538" stop-color="#0030dd"/><stop offset="0.7556" stop-color="#0085dd"/><stop offset="0.7575" stop-color="#0085dd"/><stop offset="0.7594" stop-color="#00a700"/><stop offset="0.765" stop-color="#00a700"/><stop offset="0.7669" stop-color="#00aa8f"/><stop offset="0.7801" stop-color="#00aa8f"/><stop offset="0.782" stop-color="#00a000"/><stop offset="0.7876" stop-color="#00a000"/><stop offset="0.7895" stop-color="#09d"/><stop offset="0.7951" stop-color="#09d"/><stop offset="0.797" stop-color="#00a000"/><stop offset="0.8026" stop-color="#00a000"/><stop offset="0.8045" stop-color="#00aa9c"/><stop offset="0.8102" stop-color="#00aa9c"/><stop offset="0.812" stop-color="#00a7b4"/><stop offset="0.8177" stop-color="#00a7b4"/><stop offset="0.8195" stop-color="#09d"/><stop offset="0.8252" stop-color="#09d"/><stop offset="0.8271" stop-color="#0000c9"/><stop offset="0.8289" stop-color="#4900a1"/><stop offset="0.8308" stop-color="#77009b"/><stop offset="0.8327" stop-color="#870098"/><stop offset="0.9154" stop-color="#7d008e"/><stop offset="0.9286" stop-color="#740085"/><stop offset="0.9568" stop-color="#3f0048"/><stop offset="0.9756" stop-color="#210026"/><stop offset="0.9868" stop-color="#150018"/><stop offset="1" stop-color="#110013"/></linearGradient>
<linearGradient id="l9" gradientUnits="userSpaceOnUse" x1="49" y1="0" x2="315" y2="0"><stop offset="0" stop-color="#120014"/><stop offset="0.1936" stop-color="#120014"/><stop offset="0.1992" stop-color="#240029"/><stop offset="0.2049" stop-color="#53005f"/><stop offset="0.2086" stop-color="#780089"/><stop offset="0.2199" stop-color="#809"/><stop offset="0.2237" stop-color="#00a"/><stop offset="0.2274" stop-color="#0000d4"/><stop offset="0.2293" stop-color="#0020dd"/><stop offset="0.2312" stop-color="#004fdd"/><stop offset="0.2331" stop-color="#07d"/><stop offset="0.2368" stop-color="#008bdd"/><stop offset="0.2406" stop-color="#0097dd"/><stop offset="0.2444" stop-color="#009ece"/><stop offset="0.3083" stop-color="#00aaa9"/><stop offset="0.4436" stop-color="#00aa87"/><stop offset="0.4511" stop-color="#00a87a"/><stop offset="0.4643" stop-color="#00a458"/><stop offset="0.4718" stop-color="#00a140"/><stop offset="0.4944" stop-color="#009b11"/><stop offset="0.5169" stop-color="#009901"/><stop offset="0.5526" stop-color="#009b0e"/><stop offset="0.5789" stop-color="#00a352"/><stop offset="0.5865" stop-color="#00a76f"/><stop offset="0.594" stop-color="#0a8"/><stop offset="0.6353" stop-color="#00a8b1"/><stop offset="0.656" stop-color="#009cd5"/><stop offset="0.6598" stop-color="#09d"/><stop offset="0.6805" stop-color="#07d"/><stop offset="0.6842" stop-color="#005fdd"/><stop offset="0.7011" stop-color="#001add"/><stop offset="0.7105" stop-color="#00d"/><stop offset="0.7237" stop-color="#0000cb"/><stop offset="0.735" stop-color="#0000ae"/><stop offset="0.7368" stop-color="#0500a9"/><stop offset="0.7425" stop-color="#3600a3"/><stop offset="0.7444" stop-color="#00aa8f"/><stop offset="0.75" stop-color="#00aa8f"/><stop offset="0.7519" stop-color="#0000be"/><stop offset="0.7575" stop-color="#0000be"/><stop offset="0.7594" stop-color="#008bdd"/><stop offset="0.765" stop-color="#008bdd"/><stop offset="0.7669" stop-color="#00d"/><stop offset="0.7688" stop-color="#00d"/><stop offset="0.7707" stop-color="#008bdd"/><stop offset="0.7801" stop-color="#008bdd"/><stop offset="0.782" stop-color="#0a8"/><stop offset="0.7876" stop-color="#0a8"/><stop offset="0.7895" stop-color="#00d"/><stop offset="0.7951" stop-color="#00d"/><stop offset="0.797" stop-color="#00aa9c"/><stop offset="0.8045" stop-color="#00aa9c"/><stop offset="0.8064" stop-color="#0000c9"/><stop offset="0.8083" stop-color="#0000c9"/><stop offset="0.8102" stop-color="#3600a3"/><stop offset="0.812" stop-color="#0000c9"/><stop offset="0.8177" stop-color="#0000c9"/><stop offset="0.8195" stop-color="#3600a3"/><stop offset="0.8214" stop-color="#3600a3"/><stop offset="0.8233" stop-color="#65009d"/><stop offset="0.8252" stop-color="#870098"/><stop offset="0.9004" stop-color="#79008a"/><stop offset="0.906" stop-color="#708"/><stop offset="0.9323" stop-color="#400049"/><stop offset="0.9549" stop-color="#210026"/><stop offset="0.9793" stop-color="#150018"/><stop offset="1" stop-color="#120014"/></linearGradient>
<linearGradient id="r9" gradientUnits="userSpaceOnUse" x1="329" y1="0" x2="595" y2="0"><stop offset="0" stop-color="#120014"/><stop offset="0.1936" stop-color="#120014"/><stop offset="0.1974" stop-color="#470052"/><stop offset="0.1992" stop-color="#6f007f"/><stop offset="0.2011" stop-color="#7c008d"/><stop offset="0.2049" stop-color="#830094"/><stop offset="0.2143" stop-color="#809"/><stop offset="0.218" stop-color="#00a"/><stop offset="0.2218" stop-color="#0000d3"/><stop offset="0.2237" stop-color="#0018dd"/><stop offset="0.2274" stop-color="#07d"/><stop offset="0.2293" stop-color="#0085dd"/><stop offset="0.2368" stop-color="#09d"/><stop offset="0.265" stop-color="#00aaa6"/><stop offset="0.3515" stop-color="#00aa85"/><stop offset="0.3797" stop-color="#00a55f"/><stop offset="0.3947" stop-color="#009e29"/><stop offset="0.4004" stop-color="#009a07"/><stop offset="0.4023" stop-color="#009a00"/><stop offset="0.4192" stop-color="#00b900"/><stop offset="0.4398" stop-color="#00c600"/><stop offset="0.5545" stop-color="#0c0"/><stop offset="0.5883" stop-color="#00c200"/><stop offset="0.5996" stop-color="#00af00"/><stop offset="0.6071" stop-color="#009c00"/><stop offset="0.609" stop-color="#009a05"/><stop offset="0.6165" stop-color="#00a352"/><stop offset="0.6222" stop-color="#00a981"/><stop offset="0.6241" stop-color="#00aa8a"/><stop offset="0.6429" stop-color="#00a8af"/><stop offset="0.6635" stop-color="#009ada"/><stop offset="0.6786" stop-color="#0091dd"/><stop offset="0.7199" stop-color="#007add"/><stop offset="0.7218" stop-color="#07d"/><stop offset="0.7331" stop-color="#0030dd"/><stop offset="0.7368" stop-color="#0010dd"/><stop offset="0.7387" stop-color="#0083dd"/><stop offset="0.7406" stop-color="#0083dd"/><stop offset="0.7425" stop-color="#00b400"/><stop offset="0.7481" stop-color="#00b400"/><stop offset="0.75" stop-color="#008add"/><stop offset="0.7519" stop-color="#0043dd"/><stop offset="0.7538" stop-color="#0043dd"/><stop offset="0.7556" stop-color="#008add"/><stop offset="0.7575" stop-color="#008add"/><stop offset="0.7594" stop-color="#00b400"/><stop offset="0.765" stop-color="#00b400"/><stop offset="0.7669" stop-color="#00a76d"/><stop offset="0.7801" stop-color="#00a76d"/><stop offset="0.782" stop-color="#00ad00"/><stop offset="0.7876" stop-color="#00ad00"/><stop offset="0.7895" stop-color="#009cd5"/><stop offset="0.7951" stop-color="#009cd5"/><stop offset="0.797" stop-color="#00ad00"/><stop offset="0.8026" stop-color="#00ad00"/><stop offset="0.8045" stop-color="#00aa8f"/><stop offset="0.8102" stop-color="#00aa8f"/><stop offset="0.812" stop-color="#00aaa3"/><stop offset="0.8177" stop-color="#00aaa3"/><stop offset="0.8195" stop-color="#009cd5"/><stop offset="0.8252" stop-color="#009cd5"/><stop offset="0.8271" stop-color="#0000d3"/><stop offset="0.8289" stop-color="#4900a1"/><stop offset="0.8308" stop-color="#77009b"/><stop offset="0.8327" stop-color="#870098"/><stop offset="0.9154" stop-color="#7d008e"/><stop offset="0.9286" stop-color="#740085"/><stop offset="0.9568" stop-color="#3f0048"/><stop offset="0.9756" stop-color="#210026"/><stop offset="0.9868" stop-color="#150018"/><stop offset="1" stop-color="#110013"/></linearGradient>
<linearGradient id="l10" gradientUnits="userSpaceOnUse" x1="49" y1="0" x2="315" y2="0"><stop offset="0" stop-color="#120014"/><stop offset="0.1936" stop-color="#120014"/><stop offset="0.1992" stop-color="#240029"/><stop offset="0.2049" stop-color="#53005f"/><stop offset="0.2086" stop-color="#780089"/><stop offset="0.2199" stop-color="#809"/><stop offset="0.2237" stop-color="#00a"/><stop offset="0.2274" stop-color="#0000d4"/><stop offset="0.2293" stop-color="#0020dd"/><stop offset="0.2312" stop-color="#004fdd"/><stop offset="0.2331" stop-color="#07d"/><stop offset="0.2368" stop-color="#008bdd"/><stop offset="0.2406" stop-color="#0097dd"/><stop offset="0.2444" stop-color="#009ece"/><stop offset="0.3064" stop-color="#0aa"/><stop offset="0.4605" stop-color="#00aa93"/><stop offset="0.4774" stop-color="#00aa85"/><stop offset="0.4944" stop-color="#00a563"/><stop offset="0.5169" stop-color="#00a352"/><stop offset="0.5526" stop-color="#00a55f"/><stop offset="0.5695" stop-color="#00aa89"/><stop offset="0.6128" stop-color="#00aaa1"/><stop offset="0.6335" stop-color="#00a9ae"/><stop offset="0.656" stop-color="#009cd5"/><stop offset="0.6598" stop-color="#09d"/><stop offset="0.6805" stop-color="#07d"/><stop offset="0.6842" stop-color="#005fdd"/><stop offset="0.7011" stop-color="#001add"/><stop offset="0.7105" stop-color="#00d"/><stop offset="0.7237" stop-color="#0000cb"/><stop offset="0.735" stop-color="#0000ae"/><stop offset="0.7368" stop-color="#0500a9"/><stop offset="0.7425" stop-color="#3600a3"/><stop offset="0.7444" stop-color="#00aa8f"/><stop offset="0.75" stop-color="#00aa8f"/><stop offset="0.7519" stop-color="#0000be"/><stop offset="0.7575" stop-color="#0000be"/><stop offset="0.7594" stop-color="#008bdd"/><stop offset="0.765" stop-color="#008bdd"/><stop offset="0.7669" stop-color="#00d"/><stop offset="0.7688" stop-color="#00d"/><stop offset="0.7707" stop-color="#008bdd"/><stop offset="0.7801" stop-color="#008bdd"/><stop offset="0.782" stop-color="#0a8"/><stop offset="0.7876" stop-color="#0a8"/><stop offset="0.7895" stop-color="#00d"/><stop offset="0.7951" stop-color="#00d"/><stop offset="0.797" stop-color="#00aa9c"/><stop offset="0.8045" stop-color="#00aa9c"/><stop offset="0.8064" stop-color="#0000c9"/><stop offset="0.8083" stop-color="#0000c9"/><stop offset="0.8102" stop-color="#3600a3"/><stop offset="0.812" stop-color="#0000c9"/><stop offset="0.8177" stop-color="#0000c9"/><stop offset="0.8195" stop-color="#3600a3"/><stop offset="0.8214" stop-color="#3600a3"/><stop offset="0.8233" stop-color="#65009d"/><stop offset="0.8252" stop-color="#870098"/><stop offset="0.8684" stop-color="#760087"/><stop offset="0.9342" stop-color="#2b0032"/><stop offset="0.9699" stop-color="#150018"/><stop offset="1" stop-color="#120014"/></linearGradient>
<linearGradient id="r10" gradientUnits="userSpaceOnUse" x1="329" y1="0" x2="595" y2="0"><stop offset="0" stop-color="#120014"/><stop offset="0.203" stop-color="#120014"/><stop offset="0.218" stop-color="#300036"/><stop offset="0.2293" stop-color="#5f006d"/><stop offset="0.2556" stop-color="#670075"/><stop offset="0.4436" stop-color="#690078"/><stop offset="0.6053" stop-color="#5f006d"/><stop offset="0.6335" stop-color="#3b0043"/><stop offset="0.6673" stop-color="#2f0036"/><stop offset="0.8966" stop-color="#28002d"/><stop offset="1" stop-color="#1d0021"/></linearGradient>
<linearGradient id="l11" gradientUnits="userSpaceOnUse" x1="49" y1="0" x2="315" y2="0"><stop offset="0" stop-color="#120014"/><stop offset="0.1936" stop-color="#120014"/><stop offset="0.1992" stop-color="#240029"/><stop offset="0.2049" stop-color="#53005f"/><stop offset="0.2086" stop-color="#780089"/><stop offset="0.2199" stop-color="#809"/><stop offset="0.2237" stop-color="#00a"/><stop offset="0.2256" stop-color="#0000be"/><stop offset="0.2274" stop-color="#0000d8"/><stop offset="0.2293" stop-color="#0030dd"/><stop offset="0.2312" stop-color="#0065dd"/><stop offset="0.2331" stop-color="#007edd"/><stop offset="0.2368" stop-color="#0092dd"/><stop offset="0.2387" stop-color="#0098dd"/><stop offset="0.2444" stop-color="#00a2c4"/><stop offset="0.2951" stop-color="#00aaa7"/><stop offset="0.4079" stop-color="#00aa85"/><stop offset="0.4474" stop-color="#00a352"/><stop offset="0.4643" stop-color="#009d22"/><stop offset="0.4718" stop-color="#009a0a"/><stop offset="0.4774" stop-color="#009a00"/><stop offset="0.5075" stop-color="#00a500"/><stop offset="0.5564" stop-color="#00a100"/><stop offset="0.5695" stop-color="#009903"/><stop offset="0.5789" stop-color="#009c1b"/><stop offset="0.5921" stop-color="#00a351"/><stop offset="0.6053" stop-color="#0a8"/><stop offset="0.6429" stop-color="#00a7b3"/><stop offset="0.6598" stop-color="#009cd3"/><stop offset="0.6654" stop-color="#0098dd"/><stop offset="0.6842" stop-color="#07d"/><stop offset="0.6992" stop-color="#0030dd"/><stop offset="0.7143" stop-color="#00d"/><stop offset="0.7237" stop-color="#0000ce"/><stop offset="0.735" stop-color="#0000ae"/><stop offset="0.7368" stop-color="#0500a9"/><stop offset="0.7425" stop-color="#3600a3"/><stop offset="0.7444" stop-color="#00aa8f"/><stop offset="0.75" stop-color="#00aa8f"/><stop offset="0.7519" stop-color="#0000be"/><stop offset="0.7575" stop-color="#0000be"/><stop offset="0.7594" stop-color="#008bdd"/><stop offset="0.765" stop-color="#008bdd"/><stop offset="0.7669" stop-color="#00d"/><stop offset="0.7688" stop-color="#00d"/><stop offset="0.7707" stop-color="#008bdd"/><stop offset="0.7801" stop-color="#008bdd"/><stop offset="0.782" stop-color="#0a8"/><stop offset="0.7876" stop-color="#0a8"/><stop offset="0.7895" stop-color="#00d"/><stop offset="0.7951" stop-color="#00d"/><stop offset="0.797" stop-color="#00aa9c"/><stop offset="0.8045" stop-color="#00aa9c"/><stop offset="0.8064" stop-color="#0000c9"/><stop offset="0.8083" stop-color="#0000c9"/><stop offset="0.8102" stop-color="#3600a3"/><stop offset="0.812" stop-color="#0000c9"/><stop offset="0.8177" stop-color="#0000c9"/><stop offset="0.8195" stop-color="#3600a3"/><stop offset="0.8214" stop-color="#3600a3"/><stop offset="0.8233" stop-color="#65009d"/><stop offset="0.8252" stop-color="#870098"/><stop offset="0.8684" stop-color="#760087"/><stop offset="0.9342" stop-color="#2b0032"/><stop offset="0.9699" stop-color="#150018"/><stop offset="1" stop-color="#120014"/></linearGradient>
<linearGradient id="r11" gradientUnits="userSpaceOnUse" x1="329" y1="0" x2="595" y2="0"><stop offset="0" stop-color="#120014"/><stop offset="0.1936" stop-color="#120014"/><stop offset="0.1974" stop-color="#470052"/><stop offset="0.1992" stop-color="#6f007f"/><stop offset="0.2011" stop-color="#7c008d"/><stop offset="0.2049" stop-color="#830094"/><stop offset="0.2143" stop-color="#809"/><stop offset="0.218" stop-color="#00a"/><stop offset="0.2218" stop-color="#0000d3"/><stop offset="0.2237" stop-color="#0018dd"/><stop offset="0.2274" stop-color="#07d"/><stop offset="0.2293" stop-color="#0085dd"/><stop offset="0.2368" stop-color="#09d"/><stop offset="0.265" stop-color="#00aaa6"/><stop offset="0.3515" stop-color="#00aa85"/><stop offset="0.3797" stop-color="#00a55f"/><stop offset="0.3947" stop-color="#009e29"/><stop offset="0.4004" stop-color="#009a07"/><stop offset="0.4023" stop-color="#009a00"/><stop offset="0.4192" stop-color="#00b900"/><stop offset="0.4398" stop-color="#00c600"/><stop offset="0.5545" stop-color="#0c0"/><stop offset="0.5883" stop-color="#00c200"/><stop offset="0.5996" stop-color="#00af00"/><stop offset="0.6071" stop-color="#009c00"/><stop offset="0.609" stop-color="#009a05"/><stop offset="0.6165" stop-color="#00a352"/><stop offset="0.6222" stop-color="#00a981"/><stop offset="0.6241" stop-color="#00aa8a"/><stop offset="0.6429" stop-color="#00a8af"/><stop offset="0.6635" stop-color="#009ada"/><stop offset="0.6786" stop-color="#0091dd"/><stop offset="0.7199" stop-color="#007add"/><stop offset="0.7218" stop-color="#07d"/><stop offset="0.7331" stop-color="#0030dd"/><stop offset="0.7368" stop-color="#0010dd"/><stop offset="0.7387" stop-color="#0089dd"/><stop offset="0.7406" stop-color="#0089dd"/><stop offset="0.7425" stop-color="#00c200"/><stop offset="0.7481" stop-color="#00c200"/><stop offset="0.75" stop-color="#008fdd"/><stop offset="0.7519" stop-color="#0056dd"/><stop offset="0.7538" stop-color="#0056dd"/><stop offset="0.7556" stop-color="#008fdd"/><stop offset="0.7575" stop-color="#008fdd"/><stop offset="0.7594" stop-color="#00c200"/><stop offset="0.765" stop-color="#00c200"/><stop offset="0.7669" stop-color="#00a036"/><stop offset="0.7801" stop-color="#00a036"/><stop offset="0.782" stop-color="#0b0"/><stop offset="0.7876" stop-color="#0b0"/><stop offset="0.7895" stop-color="#009ecd"/><stop offset="0.7951" stop-color="#009ecd"/><stop offset="0.797" stop-color="#0b0"/><stop offset="0.8026" stop-color="#0b0"/><stop offset="0.8045" stop-color="#00a76d"/><stop offset="0.8102" stop-color="#00a76d"/><stop offset="0.812" stop-color="#00aa96"/><stop offset="0.8177" stop-color="#00aa96"/><stop offset="0.8195" stop-color="#009ecd"/><stop offset="0.8252" stop-color="#009ecd"/><stop offset="0.8271" stop-color="#0000d3"/><stop offset="0.8289" stop-color="#4900a1"/><stop offset="0.8308" stop-color="#77009b"/><stop offset="0.8327" stop-color="#870098"/><stop offset="0.9154" stop-color="#7d008e"/><stop offset="0.9286" stop-color="#740085"/><stop offset="0.9568" stop-color="#3f0048"/><stop offset="0.9756" stop-color="#210026"/><stop offset="0.9868" stop-color="#150018"/><stop offset="1" stop-color="#110013"/></linearGradient>
<linearGradient id="l12" gradientUnits="userSpaceOnUse" x1="49" y1="0" x2="315" y2="0"><stop offset="0" stop-color="#120014"/><stop offset="0.1936" stop-color="#120014"/><stop offset="0.1992" stop-color="#240029"/><stop offset="0.2049" stop-color="#53005f"/><stop offset="0.2086" stop-color="#780089"/><stop offset="0.2199" stop-color="#809"/><stop offset="0.2237" stop-color="#00a"/><stop offset="0.2256" stop-color="#0000c0"/><stop offset="0.2274" stop-color="#0002dd"/><stop offset="0.2293" stop-color="#0047dd"/><stop offset="0.2312" stop-color="#007bdd"/><stop offset="0.235" stop-color="#0092dd"/><stop offset="0.2368" stop-color="#009bd8"/><stop offset="0.2444" stop-color="#00a7b4"/><stop offset="0.2801" stop-color="#00aaa2"/><stop offset="0.3233" stop-color="#00aa97"/><stop offset="0.438" stop-color="#00aa86"/><stop offset="0.453" stop-color="#00a879"/><stop offset="0.4624" stop-color="#00a76d"/><stop offset="0.4718" stop-color="#00a34e"/><stop offset="0.4944" stop-color="#009d1f"/><stop offset="0.5169" stop-color="#009b0e"/><stop offset="0.5526" stop-color="#009c1b"/><stop offset="0.5789" stop-color="#00a55f"/><stop offset="0.5827" stop-color="#00a76f"/><stop offset="0.5977" stop-color="#0a8"/><stop offset="0.6353" stop-color="#00aa9e"/><stop offset="0.6504" stop-color="#00a8af"/><stop offset="0.6711" stop-color="#09d"/><stop offset="0.6898" stop-color="#0078dd"/><stop offset="0.6974" stop-color="#0052dd"/><stop offset="0.703" stop-color="#003add"/><stop offset="0.718" stop-color="#0002dd"/><stop offset="0.7237" stop-color="#0000d2"/><stop offset="0.735" stop-color="#0000ae"/><stop offset="0.7368" stop-color="#0500a9"/><stop offset="0.7425" stop-color="#3600a3"/><stop offset="0.7444" stop-color="#00aa8f"/><stop offset="0.75" stop-color="#00aa8f"/><stop offset="0.7519" stop-color="#0000be"/><stop offset="0.7575" stop-color="#0000be"/><stop offset="0.7594" stop-color="#008bdd"/><stop offset="0.765" stop-color="#008bdd"/><stop offset="0.7669" stop-color="#00d"/><stop offset="0.7688" stop-color="#00d"/><stop offset="0.7707" stop-color="#008bdd"/><stop offset="0.7801" stop-color="#008bdd"/><stop offset="0.782" stop-color="#0a8"/><stop offset="0.7876" stop-color="#0a8"/><stop offset="0.7895" stop-color="#00d"/><stop offset="0.7951" stop-color="#00d"/><stop offset="0.797" stop-color="#00aa9c"/><stop offset="0.8045" stop-color="#00aa9c"/><stop offset="0.8064" stop-color="#0000c9"/><stop offset="0.8083" stop-color="#0000c9"/><stop offset="0.8102" stop-color="#3600a3"/><stop offset="0.812" stop-color="#0000c9"/><stop offset="0.8177" stop-color="#0000c9"/><stop offset="0.8195" stop-color="#3600a3"/><stop offset="0.8214" stop-color="#3600a3"/><stop offset="0.8233" stop-color="#65009d"/><stop offset="0.8252" stop-color="#870098"/><stop offset="0.8684" stop-color="#760087"/><stop offset="0.9342" stop-color="#2b0032"/><stop offset="0.9699" stop-color="#150018"/><stop offset="1" stop-color="#120014"/></linearGradient>
<linearGradient id="r12" gradientUnits="userSpaceOnUse" x1="329" y1="0" x2="595" y2="0"><stop offset="0" stop-color="#120014"/><stop offset="0.1936" stop-color="#120014"/><stop offset="0.1974" stop-color="#470052"/><stop offset="0.1992" stop-color="#6f007f"/><stop offset="0.2011" stop-color="#7c008d"/><stop offset="0.2049" stop-color="#830094"/><stop offset="0.2143" stop-color="#809"/><stop offset="0.218" stop-color="#00a"/><stop offset="0.2218" stop-color="#0000d8"/><stop offset="0.2237" stop-color="#002cdd"/><stop offset="0.2256" stop-color="#005fdd"/><stop offset="0.2274" stop-color="#007edd"/><stop offset="0.2293" stop-color="#008bdd"/><stop offset="0.235" stop-color="#009ada"/><stop offset="0.2387" stop-color="#009ecf"/><stop offset="0.2613" stop-color="#00aaa4"/><stop offset="0.2707" stop-color="#00aa9b"/><stop offset="0.3139" stop-color="#00aa8c"/><stop offset="0.3158" stop-color="#009a00"/><stop offset="0.3195" stop-color="#009a00"/><stop offset="0.3214" stop-color="#00aa89"/><stop offset="0.3252" stop-color="#0a8"/><stop offset="0.3271" stop-color="#009c00"/><stop offset="0.3308" stop-color="#009c00"/><stop offset="0.3327" stop-color="#00a982"/><stop offset="0.3383" stop-color="#00a97d"/><stop offset="0.3402" stop-color="#009a00"/><stop offset="0.344" stop-color="#009a00"/><stop offset="0.3459" stop-color="#00a876"/><stop offset="0.3797" stop-color="#00a34e"/><stop offset="0.3947" stop-color="#009d1d"/><stop offset="0.4004" stop-color="#009a00"/><stop offset="0.4192" stop-color="#00b900"/><stop offset="0.4398" stop-color="#00c600"/><stop offset="0.5545" stop-color="#0c0"/><stop offset="0.5883" stop-color="#00c200"/><stop offset="0.5996" stop-color="#00af00"/><stop offset="0.609" stop-color="#009a00"/><stop offset="0.6184" stop-color="#00a350"/><stop offset="0.6259" stop-color="#0a8"/><stop offset="0.6485" stop-color="#00a8b1"/><stop offset="0.6635" stop-color="#009dd0"/><stop offset="0.6805" stop-color="#0097dd"/><stop offset="0.7199" stop-color="#0081dd"/><stop offset="0.7256" stop-color="#07d"/><stop offset="0.7331" stop-color="#0047dd"/><stop offset="0.7368" stop-color="#02d"/><stop offset="0.7387" stop-color="#0089dd"/><stop offset="0.7406" stop-color="#0089dd"/><stop offset="0.7425" stop-color="#00c200"/><stop offset="0.7481" stop-color="#00c200"/><stop offset="0.75" stop-color="#008fdd"/><stop offset="0.7519" stop-color="#0056dd"/><stop offset="0.7538" stop-color="#0056dd"/><stop offset="0.7556" stop-color="#008fdd"/><stop offset="0.7575" stop-color="#008fdd"/><stop offset="0.7594" stop-color="#00c200"/><stop offset="0.765" stop-color="#00c200"/><stop offset="0.7669" stop-color="#00a036"/><stop offset="0.7801" stop-color="#00a036"/><stop offset="0.782" stop-color="#0b0"/><stop offset="0.7876" stop-color="#0b0"/><stop offset="0.7895" stop-color="#009ecd"/><stop offset="0.7951" stop-color="#009ecd"/><stop offset="0.797" stop-color="#0b0"/><stop offset="0.8026" stop-color="#0b0"/><stop offset="0.8045" stop-color="#00a76d"/><stop offset="0.8102" stop-color="#00a76d"/><stop offset="0.812" stop-color="#00aa96"/><stop offset="0.8177" stop-color="#00aa96"/><stop offset="0.8195" stop-color="#009ecd"/><stop offset="0.8252" stop-color="#009ecd"/><stop offset="0.8271" stop-color="#0000d8"/><stop offset="0.8289" stop-color="#4900a1"/><stop offset="0.8308" stop-color="#77009b"/><stop offset="0.8327" stop-color="#870098"/><stop offset="0.9154" stop-color="#7d008e"/><stop offset="0.9286" stop-color="#740085"/><stop offset="0.9568" stop-color="#3f0048"/><stop offset="0.9756" stop-color="#210026"/><stop offset="0.9868" stop-color="#150018"/><stop offset="1" stop-color="#110013"/></linearGradient>
<linearGradient id="l13" gradientUnits="userSpaceOnUse" x1="49" y1="0" x2="315" y2="0"><stop offset="0" stop-color="#120014"/><stop offset="0.1936" stop-color="#120014"/><stop offset="0.1992" stop-color="#240029"/><stop offset="0.2049" stop-color="#53005f"/><stop offset="0.2086" stop-color="#780089"/><stop offset="0.2199" stop-color="#809"/><stop offset="0.2237" stop-color="#00a"/><stop offset="0.2293" stop-color="#00d"/><stop offset="0.235" stop-color="#006bdd"/><stop offset="0.2368" stop-color="#007edd"/><stop offset="0.2444" stop-color="#0096dd"/><stop offset="0.2575" stop-color="#009ad9"/><stop offset="0.3158" stop-color="#00a4bb"/><stop offset="0.4173" stop-color="#00aaa1"/><stop offset="0.4624" stop-color="#00aa92"/><stop offset="0.4774" stop-color="#00aa85"/><stop offset="0.4944" stop-color="#00a563"/><stop offset="0.5169" stop-color="#00a352"/><stop offset="0.5526" stop-color="#00a55f"/><stop offset="0.5695" stop-color="#00aa89"/><stop offset="0.6184" stop-color="#00a8b1"/><stop offset="0.6391" stop-color="#009fcb"/><stop offset="0.6504" stop-color="#09d"/><stop offset="0.6729" stop-color="#07d"/><stop offset="0.6842" stop-color="#0030dd"/><stop offset="0.6992" stop-color="#00d"/><stop offset="0.7237" stop-color="#0000c5"/><stop offset="0.735" stop-color="#0000ae"/><stop offset="0.7368" stop-color="#0500a9"/><stop offset="0.7425" stop-color="#3600a3"/><stop offset="0.7444" stop-color="#0aa"/><stop offset="0.75" stop-color="#0aa"/><stop offset="0.7519" stop-color="#0000be"/><stop offset="0.7575" stop-color="#0000be"/><stop offset="0.7594" stop-color="#008bdd"/><stop offset="0.765" stop-color="#008bdd"/><stop offset="0.7669" stop-color="#00d"/><stop offset="0.7688" stop-color="#00d"/><stop offset="0.7707" stop-color="#008bdd"/><stop offset="0.7801" stop-color="#008bdd"/><stop offset="0.782" stop-color="#00aaa3"/><stop offset="0.7876" stop-color="#00aaa3"/><stop offset="0.7895" stop-color="#00d"/><stop offset="0.7951" stop-color="#00d"/><stop offset="0.797" stop-color="#00a3be"/><stop offset="0.8045" stop-color="#00a3be"/><stop offset="0.8064" stop-color="#0000c9"/><stop offset="0.8083" stop-color="#0000c9"/><stop offset="0.8102" stop-color="#3600a3"/><stop offset="0.812" stop-color="#0000c9"/><stop offset="0.8177" stop-color="#0000c9"/><stop offset="0.8195" stop-color="#3600a3"/><stop offset="0.8214" stop-color="#3600a3"/><stop offset="0.8233" stop-color="#65009d"/><stop offset="0.8252" stop-color="#870098"/><stop offset="0.8684" stop-color="#760087"/><stop offset="0.9342" stop-color="#2b0032"/><stop offset="0.9699" stop-color="#150018"/><stop offset="1" stop-color="#120014"/></linearGradient>
<linearGradient id="r13" gradientUnits="userSpaceOnUse" x1="329" y1="0" x2="595" y2="0"><stop offset="0" stop-color="#120014"/><stop offset="0.1936" stop-color="#120014"/><stop offset="0.1974" stop-color="#470052"/><stop offset="0.1992" stop-color="#6f007f"/><stop offset="0.2011" stop-color="#7c008d"/><stop offset="0.2049" stop-color="#830094"/><stop offset="0.2143" stop-color="#809"/><stop offset="0.218" stop-color="#00a"/><stop offset="0.2218" stop-color="#0000d8"/><stop offset="0.2237" stop-color="#002cdd"/><stop offset="0.2256" stop-color="#005fdd"/><stop offset="0.2274" stop-color="#007edd"/><stop offset="0.2293" stop-color="#008bdd"/><stop offset="0.235" stop-color="#009ada"/><stop offset="0.2387" stop-color="#009ecf"/><stop offset="0.2613" stop-color="#00aaa4"/><stop offset="0.2707" stop-color="#00aa9b"/><stop offset="0.3195" stop-color="#00aa8d"/><stop offset="0.3853" stop-color="#00aa86"/><stop offset="0.4004" stop-color="#00a875"/><stop offset="0.4117" stop-color="#00a561"/><stop offset="0.4135" stop-color="#00a456"/><stop offset="0.4173" stop-color="#00a036"/><stop offset="0.4361" stop-color="#090"/><stop offset="0.5545" stop-color="#00a000"/><stop offset="0.5865" stop-color="#090"/><stop offset="0.5977" stop-color="#00a244"/><stop offset="0.5996" stop-color="#00a457"/><stop offset="0.6015" stop-color="#00a562"/><stop offset="0.6165" stop-color="#0a8"/><stop offset="0.6316" stop-color="#00aa92"/><stop offset="0.6485" stop-color="#00a8b1"/><stop offset="0.6635" stop-color="#009dd0"/><stop offset="0.6805" stop-color="#0097dd"/><stop offset="0.7199" stop-color="#0081dd"/><stop offset="0.7256" stop-color="#07d"/><stop offset="0.7331" stop-color="#0047dd"/><stop offset="0.7368" stop-color="#02d"/><stop offset="0.7387" stop-color="#0086dd"/><stop offset="0.7406" stop-color="#0086dd"/><stop offset="0.7425" stop-color="#0b0"/><stop offset="0.7481" stop-color="#0b0"/><stop offset="0.75" stop-color="#008ddd"/><stop offset="0.7519" stop-color="#004cdd"/><stop offset="0.7538" stop-color="#004cdd"/><stop offset="0.7556" stop-color="#008ddd"/><stop offset="0.7575" stop-color="#008ddd"/><stop offset="0.7594" stop-color="#0b0"/><stop offset="0.765" stop-color="#0b0"/><stop offset="0.7669" stop-color="#00a352"/><stop offset="0.7801" stop-color="#00a352"/><stop offset="0.782" stop-color="#00b400"/><stop offset="0.7876" stop-color="#00b400"/><stop offset="0.7895" stop-color="#009dd1"/><stop offset="0.7951" stop-color="#009dd1"/><stop offset="0.797" stop-color="#00b400"/><stop offset="0.8026" stop-color="#00b400"/><stop offset="0.8045" stop-color="#0a8"/><stop offset="0.8102" stop-color="#0a8"/><stop offset="0.812" stop-color="#00aa9c"/><stop offset="0.8177" stop-color="#00aa9c"/><stop offset="0.8195" stop-color="#009dd1"/><stop offset="0.8252" stop-color="#009dd1"/><stop offset="0.8271" stop-color="#0000d8"/><stop offset="0.8289" stop-color="#4900a1"/><stop offset="0.8308" stop-color="#77009b"/><stop offset="0.8327" stop-color="#870098"/><stop offset="0.9154" stop-color="#7d008e"/><stop offset="0.9286" stop-color="#740085"/><stop offset="0.9568" stop-color="#3f0048"/><stop offset="0.9756" stop-color="#210026"/><stop offset="0.9868" stop-color="#150018"/><stop offset="1" stop-color="#110013"/></linearGradient>
<linearGradient id="l14" gradientUnits="userSpaceOnUse" x1="49" y1="0" x2="315" y2="0"><stop offset="0" stop-color="#120014"/><stop offset="0.1936" stop-color="#120014"/><stop offset="0.1992" stop-color="#240029"/><stop offset="0.2049" stop-color="#53005f"/><stop offset="0.2086" stop-color="#780089"/><stop offset="0.2199" stop-color="#809"/><stop offset="0.2237" stop-color="#00a"/><stop offset="0.2274" stop-color="#0000d4"/><stop offset="0.2293" stop-color="#0020dd"/><stop offset="0.2312" stop-color="#004fdd"/><stop offset="0.2331" stop-color="#07d"/><stop offset="0.2368" stop-color="#008bdd"/><stop offset="0.2406" stop-color="#0097dd"/><stop offset="0.2444" stop-color="#009ece"/><stop offset="0.3083" stop-color="#00aaa9"/><stop offset="0.4229" stop-color="#00aa85"/><stop offset="0.4474" stop-color="#00a562"/><stop offset="0.4662" stop-color="#009e29"/><stop offset="0.4718" stop-color="#009c17"/><stop offset="0.4831" stop-color="#090"/><stop offset="0.5169" stop-color="#00a300"/><stop offset="0.5564" stop-color="#009d00"/><stop offset="0.5639" stop-color="#009902"/><stop offset="0.5789" stop-color="#009e29"/><stop offset="0.6015" stop-color="#0a8"/><stop offset="0.6353" stop-color="#00a8b1"/><stop offset="0.656" stop-color="#009cd5"/><stop offset="0.6598" stop-color="#09d"/><stop offset="0.6805" stop-color="#07d"/><stop offset="0.6842" stop-color="#005fdd"/><stop offset="0.7011" stop-color="#001add"/><stop offset="0.7105" stop-color="#00d"/><stop offset="0.7237" stop-color="#0000cb"/><stop offset="0.735" stop-color="#0000ae"/><stop offset="0.7368" stop-color="#0500a9"/><stop offset="0.7425" stop-color="#3600a3"/><stop offset="0.7444" stop-color="#0aa"/><stop offset="0.75" stop-color="#0aa"/><stop offset="0.7519" stop-color="#0000be"/><stop offset="0.7575" stop-color="#0000be"/><stop offset="0.7594" stop-color="#008bdd"/><stop offset="0.765" stop-color="#008bdd"/><stop offset="0.7669" stop-color="#00d"/><stop offset="0.7688" stop-color="#00d"/><stop offset="0.7707" stop-color="#008bdd"/><stop offset="0.7801" stop-color="#008bdd"/><stop offset="0.782" stop-color="#00aaa3"/><stop offset="0.7876" stop-color="#00aaa3"/><stop offset="0.7895" stop-color="#00d"/><stop offset="0.7951" stop-color="#00d"/><stop offset="0.797" stop-color="#00a3be"/><stop offset="0.8045" stop-color="#00a3be"/><stop offset="0.8064" stop-color="#0000c9"/><stop offset="0.8083" stop-color="#0000c9"/><stop offset="0.8102" stop-color="#3600a3"/><stop offset="0.812" stop-color="#0000c9"/><stop offset="0.8177" stop-color="#0000c9"/><stop offset="0.8195" stop-color="#3600a3"/><stop offset="0.8214" stop-color="#3600a3"/><stop offset="0.8233" stop-color="#65009d"/><stop offset="0.8252" stop-color="#870098"/><stop offset="0.8684" stop-color="#760087"/><stop offset="0.9342" stop-color="#2b0032"/><stop offset="0.9699" stop-color="#150018"/><stop offset="1" stop-color="#120014"/></linearGradient>
<linearGradient id="r14" gradientUnits="userSpaceOnUse" x1="329" y1="0" x2="595" y2="0"><stop offset="0" stop-color="#120014"/><stop offset="0.1936" stop-color="#120014"/><stop offset="0.1974" stop-color="#470052"/><stop offset="0.1992" stop-color="#6f007f"/><stop offset="0.2011" stop-color="#7c008d"/><stop offset="0.2049" stop-color="#830094"/><stop offset="0.2143" stop-color="#809"/><stop offset="0.218" stop-color="#00a"/><stop offset="0.2199" stop-color="#0000c4"/><stop offset="0.2218" stop-color="#000cdd"/><stop offset="0.2237" stop-color="#0053dd"/><stop offset="0.2256" stop-color="#007edd"/><stop offset="0.2293" stop-color="#09d"/><stop offset="0.2368" stop-color="#00a3be"/><stop offset="0.2519" stop-color="#00aaa3"/><stop offset="0.2688" stop-color="#00aa8e"/><stop offset="0.2895" stop-color="#00aa85"/><stop offset="0.3139" stop-color="#00a560"/><stop offset="0.3158" stop-color="#009a00"/><stop offset="0.3195" stop-color="#009a00"/><stop offset="0.3214" stop-color="#00a455"/><stop offset="0.3252" stop-color="#00a350"/><stop offset="0.3271" stop-color="#009c00"/><stop offset="0.3308" stop-color="#009c00"/><stop offset="0.3327" stop-color="#00a248"/><stop offset="0.3383" stop-color="#00a142"/><stop offset="0.3402" stop-color="#009a00"/><stop offset="0.344" stop-color="#009a00"/><stop offset="0.3459" stop-color="#00a03a"/><stop offset="0.3797" stop-color="#009b0e"/><stop offset="0.3835" stop-color="#090"/><stop offset="0.4004" stop-color="#00ac00"/><stop offset="0.4192" stop-color="#00cd00"/><stop offset="0.4398" stop-color="#00da00"/><stop offset="0.5545" stop-color="#00e000"/><stop offset="0.5883" stop-color="#00d700"/><stop offset="0.5996" stop-color="#00c400"/><stop offset="0.6165" stop-color="#090"/><stop offset="0.6297" stop-color="#00a76d"/><stop offset="0.6335" stop-color="#0a8"/><stop offset="0.6579" stop-color="#00a8b1"/><stop offset="0.6654" stop-color="#00a4bd"/><stop offset="0.7011" stop-color="#0099dc"/><stop offset="0.7199" stop-color="#008fdd"/><stop offset="0.7331" stop-color="#07d"/><stop offset="0.7368" stop-color="#0047dd"/><stop offset="0.7387" stop-color="#008bdd"/><stop offset="0.7406" stop-color="#008bdd"/><stop offset="0.7425" stop-color="#00c900"/><stop offset="0.7481" stop-color="#00c900"/><stop offset="0.75" stop-color="#0092dd"/><stop offset="0.7519" stop-color="#005fdd"/><stop offset="0.7538" stop-color="#005fdd"/><stop offset="0.7556" stop-color="#0092dd"/><stop offset="0.7575" stop-color="#0092dd"/><stop offset="0.7594" stop-color="#00c900"/><stop offset="0.765" stop-color="#00c900"/><stop offset="0.7669" stop-color="#009c1b"/><stop offset="0.7801" stop-color="#009c1b"/><stop offset="0.782" stop-color="#00c200"/><stop offset="0.7876" stop-color="#00c200"/><stop offset="0.7895" stop-color="#00a0c9"/><stop offset="0.7951" stop-color="#00a0c9"/><stop offset="0.797" stop-color="#00c200"/><stop offset="0.8026" stop-color="#00c200"/><stop offset="0.8045" stop-color="#00a352"/><stop offset="0.8102" stop-color="#00a352"/><stop offset="0.812" stop-color="#00aa8f"/><stop offset="0.8177" stop-color="#00aa8f"/><stop offset="0.8195" stop-color="#00a0c9"/><stop offset="0.8252" stop-color="#00a0c9"/><stop offset="0.8271" stop-color="#000cdd"/><stop offset="0.8289" stop-color="#4900a1"/><stop offset="0.8308" stop-color="#77009b"/><stop offset="0.8327" stop-color="#870098"/><stop offset="0.9154" stop-color="#7d008e"/><stop offset="0.9286" stop-color="#740085"/><stop offset="0.9568" stop-color="#3f0048"/><stop offset="0.9756" stop-color="#210026"/><stop offset="0.9868" stop-color="#150018"/><stop offset="1" stop-color="#110013"/></linearGradient>
<linearGradient id="l15" gradientUnits="userSpaceOnUse" x1="49" y1="0" x2="315" y2="0"><stop offset="0" stop-color="#120014"/><stop offset="0.1936" stop-color="#120014"/><stop offset="0.1992" stop-color="#240029"/><stop offset="0.2049" stop-color="#53005f"/><stop offset="0.2086" stop-color="#780089"/><stop offset="0.2199" stop-color="#809"/><stop offset="0.2237" stop-color="#00a"/><stop offset="0.2293" stop-color="#00d"/><stop offset="0.235" stop-color="#006bdd"/><stop offset="0.2368" stop-color="#007edd"/><stop offset="0.2444" stop-color="#0096dd"/><stop offset="0.2575" stop-color="#009ad9"/><stop offset="0.3195" stop-color="#00a5b9"/><stop offset="0.4041" stop-color="#00aaa0"/><stop offset="0.4568" stop-color="#00aa8f"/><stop offset="0.4662" stop-color="#0a8"/><stop offset="0.4718" stop-color="#00a876"/><stop offset="0.4944" stop-color="#00a248"/><stop offset="0.5169" stop-color="#00a037"/><stop offset="0.5526" stop-color="#00a244"/><stop offset="0.5808" stop-color="#00aa8a"/><stop offset="0.6203" stop-color="#00a8b1"/><stop offset="0.6504" stop-color="#09d"/><stop offset="0.6729" stop-color="#07d"/><stop offset="0.6842" stop-color="#0030dd"/><stop offset="0.6992" stop-color="#00d"/><stop offset="0.7237" stop-color="#0000c5"/><stop offset="0.735" stop-color="#0000ae"/><stop offset="0.7368" stop-color="#0500a9"/><stop offset="0.7425" stop-color="#3600a3"/><stop offset="0.7444" stop-color="#0aa"/><stop offset="0.75" stop-color="#0aa"/><stop offset="0.7519" stop-color="#0000be"/><stop offset="0.7575" stop-color="#0000be"/><stop offset="0.7594" stop-color="#008bdd"/><stop offset="0.765" stop-color="#008bdd"/><stop offset="0.7669" stop-color="#00d"/><stop offset="0.7688" stop-color="#00d"/><stop offset="0.7707" stop-color="#008bdd"/><stop offset="0.7801" stop-color="#008bdd"/><stop offset="0.782" stop-color="#00aaa3"/><stop offset="0.7876" stop-color="#00aaa3"/><stop offset="0.7895" stop-color="#00d"/><stop offset="0.7951" stop-color="#00d"/><stop offset="0.797" stop-color="#00a3be"/><stop offset="0.8045" stop-color="#00a3be"/><stop offset="0.8064" stop-color="#0000c9"/><stop offset="0.8083" stop-color="#0000c9"/><stop offset="0.8102" stop-color="#3600a3"/><stop offset="0.812" stop-color="#0000c9"/><stop offset="0.8177" stop-color="#0000c9"/><stop offset="0.8195" stop-color="#3600a3"/><stop offset="0.8214" stop-color="#3600a3"/><stop offset="0.8233" stop-color="#65009d"/><stop offset="0.8252" stop-color="#870098"/><stop offset="0.8684" stop-color="#760087"/><stop offset="0.9342" stop-color="#2b0032"/><stop offset="0.9699" stop-color="#150018"/><stop offset="1" stop-color="#120014"/></linearGradient>
<linearGradient id="r15" gradientUnits="userSpaceOnUse" x1="329" y1="0" x2="595" y2="0"><stop offset="0" stop-color="#120014"/><stop offset="0.1936" stop-color="#120014"/><stop offset="0.1974" stop-color="#470052"/><stop offset="0.1992" stop-color="#6f007f"/><stop offset="0.2011" stop-color="#7c008d"/><stop offset="0.2049" stop-color="#830094"/><stop offset="0.2143" stop-color="#809"/><stop offset="0.218" stop-color="#00a"/><stop offset="0.2218" stop-color="#0000ce"/><stop offset="0.2237" stop-color="#0004dd"/><stop offset="0.2274" stop-color="#005fdd"/><stop offset="0.2293" stop-color="#007edd"/><stop offset="0.2387" stop-color="#0095dd"/><stop offset="0.2444" stop-color="#009bd8"/><stop offset="0.2669" stop-color="#0aa"/><stop offset="0.3647" stop-color="#00aa87"/><stop offset="0.3797" stop-color="#00a771"/><stop offset="0.3947" stop-color="#00a035"/><stop offset="0.4023" stop-color="#009903"/><stop offset="0.4098" stop-color="#00a700"/><stop offset="0.4192" stop-color="#00b900"/><stop offset="0.4398" stop-color="#00c600"/><stop offset="0.5545" stop-color="#0c0"/><stop offset="0.5883" stop-color="#00c200"/><stop offset="0.5996" stop-color="#00af00"/><stop offset="0.6071" stop-color="#009b00"/><stop offset="0.609" stop-color="#009b0e"/><stop offset="0.6165" stop-color="#00a562"/><stop offset="0.6203" stop-color="#00aa85"/><stop offset="0.6335" stop-color="#00aaa3"/><stop offset="0.6579" stop-color="#009ada"/><stop offset="0.6673" stop-color="#0092dd"/><stop offset="0.718" stop-color="#07d"/><stop offset="0.7368" stop-color="#0000dc"/><stop offset="0.7387" stop-color="#0089dd"/><stop offset="0.7406" stop-color="#0089dd"/><stop offset="0.7425" stop-color="#00c200"/><stop offset="0.7481" stop-color="#00c200"/><stop offset="0.75" stop-color="#008fdd"/><stop offset="0.7519" stop-color="#0056dd"/><stop offset="0.7538" stop-color="#0056dd"/><stop offset="0.7556" stop-color="#008fdd"/><stop offset="0.7575" stop-color="#008fdd"/><stop offset="0.7594" stop-color="#00c200"/><stop offset="0.765" stop-color="#00c200"/><stop offset="0.7669" stop-color="#00a036"/><stop offset="0.7801" stop-color="#00a036"/><stop offset="0.782" stop-color="#0b0"/><stop offset="0.7876" stop-color="#0b0"/><stop offset="0.7895" stop-color="#009ecd"/><stop offset="0.7951" stop-color="#009ecd"/><stop offset="0.797" stop-color="#0b0"/><stop offset="0.8026" stop-color="#0b0"/><stop offset="0.8045" stop-color="#00a76d"/><stop offset="0.8102" stop-color="#00a76d"/><stop offset="0.812" stop-color="#00aa96"/><stop offset="0.8177" stop-color="#00aa96"/><stop offset="0.8195" stop-color="#009ecd"/><stop offset="0.8252" stop-color="#009ecd"/><stop offset="0.8271" stop-color="#0000ce"/><stop offset="0.8289" stop-color="#4900a1"/><stop offset="0.8308" stop-color="#77009b"/><stop offset="0.8327" stop-color="#870098"/><stop offset="0.9154" stop-color="#7d008e"/><stop offset="0.9286" stop-color="#740085"/><stop offset="0.9568" stop-color="#3f0048"/><stop offset="0.9756" stop-color="#210026"/><stop offset="0.9868" stop-color="#150018"/><stop offset="1" stop-color="#110013"/></linearGradient>
<linearGradient id="l16" gradientUnits="userSpaceOnUse" x1="49" y1="0" x2="315" y2="0"><stop offset="0" stop-color="#120014"/><stop offset="0.1936" stop-color="#120014"/><stop offset="0.1992" stop-color="#240029"/><stop offset="0.2049" stop-color="#53005f"/><stop offset="0.2086" stop-color="#780089"/><stop offset="0.2199" stop-color="#809"/><stop offset="0.2237" stop-color="#00a"/><stop offset="0.2293" stop-color="#0000d6"/><stop offset="0.2312" stop-color="#000edd"/><stop offset="0.2368" stop-color="#07d"/><stop offset="0.2444" stop-color="#008fdd"/><stop offset="0.2726" stop-color="#009ada"/><stop offset="0.3797" stop-color="#00aaa5"/><stop offset="0.4492" stop-color="#00aa89"/><stop offset="0.4568" stop-color="#00a773"/><stop offset="0.4718" stop-color="#00a140"/><stop offset="0.4944" stop-color="#009b11"/><stop offset="0.5169" stop-color="#009901"/><stop offset="0.5526" stop-color="#009b0e"/><stop offset="0.5789" stop-color="#00a352"/><stop offset="0.5902" stop-color="#0a8"/><stop offset="0.6184" stop-color="#00a8b1"/><stop offset="0.6429" stop-color="#009adb"/><stop offset="0.6673" stop-color="#007add"/><stop offset="0.6692" stop-color="#07d"/><stop offset="0.6842" stop-color="#0018dd"/><stop offset="0.6936" stop-color="#00d"/><stop offset="0.7256" stop-color="#0000c0"/><stop offset="0.7331" stop-color="#0000b4"/><stop offset="0.735" stop-color="#0000ae"/><stop offset="0.7368" stop-color="#0500a9"/><stop offset="0.7425" stop-color="#3600a3"/><stop offset="0.7444" stop-color="#0aa"/><stop offset="0.75" stop-color="#0aa"/><stop offset="0.7519" stop-color="#0000be"/><stop offset="0.7575" stop-color="#0000be"/><stop offset="0.7594" stop-color="#008bdd"/><stop offset="0.765" stop-color="#008bdd"/><stop offset="0.7669" stop-color="#00d"/><stop offset="0.7688" stop-color="#00d"/><stop offset="0.7707" stop-color="#008bdd"/><stop offset="0.7801" stop-color="#008bdd"/><stop offset="0.782" stop-color="#00aaa3"/><stop offset="0.7876" stop-color="#00aaa3"/><stop offset="0.7895" stop-color="#00d"/><stop offset="0.7951" stop-color="#00d"/><stop offset="0.797" stop-color="#00a3be"/><stop offset="0.8045" stop-color="#00a3be"/><stop offset="0.8064" stop-color="#0000c9"/><stop offset="0.8083" stop-color="#0000c9"/><stop offset="0.8102" stop-color="#3600a3"/><stop offset="0.812" stop-color="#0000c9"/><stop offset="0.8177" stop-color="#0000c9"/><stop offset="0.8195" stop-color="#3600a3"/><stop offset="0.8214" stop-color="#3600a3"/><stop offset="0.8233" stop-color="#65009d"/><stop offset="0.8252" stop-color="#870098"/><stop offset="0.8684" stop-color="#760087"/><stop offset="0.9342" stop-color="#2b0032"/><stop offset="0.9699" stop-color="#150018"/><stop offset="1" stop-color="#120014"/></linearGradient>
<linearGradient id="r16" gradientUnits="userSpaceOnUse" x1="329" y1="0" x2="595" y2="0"><stop offset="0" stop-color="#120014"/><stop offset="0.1936" stop-color="#120014"/><stop offset="0.1974" stop-color="#470052"/><stop offset="0.1992" stop-color="#6f007f"/><stop offset="0.2011" stop-color="#7c008d"/><stop offset="0.2049" stop-color="#830094"/><stop offset="0.2143" stop-color="#809"/><stop offset="0.218" stop-color="#00a"/><stop offset="0.2218" stop-color="#0000ce"/><stop offset="0.2237" stop-color="#0004dd"/><stop offset="0.2274" stop-color="#005fdd"/><stop offset="0.2293" stop-color="#007edd"/><stop offset="0.2387" stop-color="#0095dd"/><stop offset="0.2444" stop-color="#009bd8"/><stop offset="0.2669" stop-color="#0aa"/><stop offset="0.3553" stop-color="#00aa86"/><stop offset="0.3797" stop-color="#00a459"/><stop offset="0.3947" stop-color="#009b10"/><stop offset="0.3966" stop-color="#090"/><stop offset="0.4098" stop-color="#00b700"/><stop offset="0.4192" stop-color="#00ca00"/><stop offset="0.4398" stop-color="#00d700"/><stop offset="0.5545" stop-color="#0d0"/><stop offset="0.5883" stop-color="#00d300"/><stop offset="0.5996" stop-color="#00c000"/><stop offset="0.6109" stop-color="#009b00"/><stop offset="0.6128" stop-color="#009b13"/><stop offset="0.6165" stop-color="#00a247"/><stop offset="0.6222" stop-color="#00aa87"/><stop offset="0.6316" stop-color="#00aaa0"/><stop offset="0.641" stop-color="#00a7b4"/><stop offset="0.6598" stop-color="#0098dd"/><stop offset="0.703" stop-color="#007edd"/><stop offset="0.718" stop-color="#07d"/><stop offset="0.7368" stop-color="#0000dc"/><stop offset="0.7387" stop-color="#008bdd"/><stop offset="0.7406" stop-color="#008bdd"/><stop offset="0.7425" stop-color="#00c900"/><stop offset="0.7481" stop-color="#00c900"/><stop offset="0.75" stop-color="#0092dd"/><stop offset="0.7519" stop-color="#005fdd"/><stop offset="0.7538" stop-color="#005fdd"/><stop offset="0.7556" stop-color="#0092dd"/><stop offset="0.7575" stop-color="#0092dd"/><stop offset="0.7594" stop-color="#00c900"/><stop offset="0.765" stop-color="#00c900"/><stop offset="0.7669" stop-color="#009c1b"/><stop offset="0.7801" stop-color="#009c1b"/><stop offset="0.782" stop-color="#00c200"/><stop offset="0.7876" stop-color="#00c200"/><stop offset="0.7895" stop-color="#00a0c9"/><stop offset="0.7951" stop-color="#00a0c9"/><stop offset="0.797" stop-color="#00c200"/><stop offset="0.8026" stop-color="#00c200"/><stop offset="0.8045" stop-color="#00a352"/><stop offset="0.8102" stop-color="#00a352"/><stop offset="0.812" stop-color="#00aa8f"/><stop offset="0.8177" stop-color="#00aa8f"/><stop offset="0.8195" stop-color="#00a0c9"/><stop offset="0.8252" stop-color="#00a0c9"/><stop offset="0.8271" stop-color="#0000ce"/><stop offset="0.8289" stop-color="#4900a1"/><stop offset="0.8308" stop-color="#77009b"/><stop offset="0.8327" stop-color="#870098"/><stop offset="0.9154" stop-color="#7d008e"/><stop offset="0.9286" stop-color="#740085"/><stop offset="0.9568" stop-color="#3f0048"/><stop offset="0.9756" stop-color="#210026"/><stop offset="0.9868" stop-color="#150018"/><stop offset="1" stop-color="#110013"/></linearGradient>
<linearGradient id="l17" gradientUnits="userSpaceOnUse" x1="49" y1="0" x2="315" y2="0"><stop offset="0" stop-color="#120014"/><stop offset="0.1936" stop-color="#120014"/><stop offset="0.1992" stop-color="#240029"/><stop offset="0.2049" stop-color="#53005f"/><stop offset="0.2086" stop-color="#780089"/><stop offset="0.2199" stop-color="#809"/><stop offset="0.2237" stop-color="#00a"/><stop offset="0.2274" stop-color="#0000d2"/><stop offset="0.2293" stop-color="#0018dd"/><stop offset="0.2312" stop-color="#04d"/><stop offset="0.2331" stop-color="#006bdd"/><stop offset="0.235" stop-color="#007edd"/><stop offset="0.2387" stop-color="#008edd"/><stop offset="0.2425" stop-color="#0099dc"/><stop offset="0.2444" stop-color="#009cd3"/><stop offset="0.3158" stop-color="#0aa"/><stop offset="0.4248" stop-color="#00aa87"/><stop offset="0.4474" stop-color="#00a665"/><stop offset="0.468" stop-color="#009d22"/><stop offset="0.4812" stop-color="#009903"/><stop offset="0.5038" stop-color="#00a100"/><stop offset="0.5451" stop-color="#00a000"/><stop offset="0.5639" stop-color="#009902"/><stop offset="0.5789" stop-color="#009e29"/><stop offset="0.5996" stop-color="#00aa85"/><stop offset="0.6335" stop-color="#00a7b3"/><stop offset="0.6579" stop-color="#0098dd"/><stop offset="0.6786" stop-color="#07d"/><stop offset="0.6842" stop-color="#0053dd"/><stop offset="0.7011" stop-color="#0013dd"/><stop offset="0.7086" stop-color="#00d"/><stop offset="0.7237" stop-color="#0000c9"/><stop offset="0.735" stop-color="#0000ae"/><stop offset="0.7368" stop-color="#0500a9"/><stop offset="0.7425" stop-color="#3600a3"/><stop offset="0.7444" stop-color="#0aa"/><stop offset="0.75" stop-color="#0aa"/><stop offset="0.7519" stop-color="#0000be"/><stop offset="0.7575" stop-color="#0000be"/><stop offset="0.7594" stop-color="#008bdd"/><stop offset="0.765" stop-color="#008bdd"/><stop offset="0.7669" stop-color="#00d"/><stop offset="0.7688" stop-color="#00d"/><stop offset="0.7707" stop-color="#008bdd"/><stop offset="0.7801" stop-color="#008bdd"/><stop offset="0.782" stop-color="#00aaa3"/><stop offset="0.7876" stop-color="#00aaa3"/><stop offset="0.7895" stop-color="#00d"/><stop offset="0.7951" stop-color="#00d"/><stop offset="0.797" stop-color="#00a3be"/><stop offset="0.8045" stop-color="#00a3be"/><stop offset="0.8064" stop-color="#0000c9"/><stop offset="0.8083" stop-color="#0000c9"/><stop offset="0.8102" stop-color="#3600a3"/><stop offset="0.812" stop-color="#0000c9"/><stop offset="0.8177" stop-color="#0000c9"/><stop offset="0.8195" stop-color="#3600a3"/><stop offset="0.8214" stop-color="#3600a3"/><stop offset="0.8233" stop-color="#65009d"/><stop offset="0.8252" stop-color="#870098"/><stop offset="0.8684" stop-color="#760087"/><stop offset="0.9342" stop-color="#2b0032"/><stop offset="0.9699" stop-color="#150018"/><stop offset="1" stop-color="#120014"/></linearGradient>
<linearGradient id="r17" gradientUnits="userSpaceOnUse" x1="329" y1="0" x2="595" y2="0"><stop offset="0" stop-color="#120014"/><stop offset="0.1936" stop-color="#120014"/><stop offset="0.1974" stop-color="#470052"/><stop offset="0.1992" stop-color="#6f007f"/><stop offset="0.2011" stop-color="#7c008d"/><stop offset="0.2049" stop-color="#830094"/><stop offset="0.2143" stop-color="#809"/><stop offset="0.218" stop-color="#00a"/><stop offset="0.2218" stop-color="#00d"/><stop offset="0.2237" stop-color="#003fdd"/><stop offset="0.2256" stop-color="#07d"/><stop offset="0.2293" stop-color="#0092dd"/><stop offset="0.2312" stop-color="#0097dd"/><stop offset="0.2387" stop-color="#00a1c5"/><stop offset="0.2556" stop-color="#00aaa5"/><stop offset="0.2688" stop-color="#00aa95"/><stop offset="0.3064" stop-color="#00aa87"/><stop offset="0.3271" stop-color="#00a45b"/><stop offset="0.3553" stop-color="#009f2e"/><stop offset="0.3797" stop-color="#009a00"/><stop offset="0.3966" stop-color="#00b100"/><stop offset="0.4098" stop-color="#00d100"/><stop offset="0.4173" stop-color="#00e400"/><stop offset="0.4398" stop-color="#00f200"/><stop offset="0.5545" stop-color="#00f800"/><stop offset="0.5883" stop-color="#00ef00"/><stop offset="0.5996" stop-color="#00dc00"/><stop offset="0.6184" stop-color="#009901"/><stop offset="0.6278" stop-color="#00a874"/><stop offset="0.6297" stop-color="#0a8"/><stop offset="0.6541" stop-color="#00a7b3"/><stop offset="0.6635" stop-color="#00a1c5"/><stop offset="0.6898" stop-color="#0098dd"/><stop offset="0.7199" stop-color="#08d"/><stop offset="0.7293" stop-color="#07d"/><stop offset="0.7331" stop-color="#005fdd"/><stop offset="0.7368" stop-color="#0035dd"/><stop offset="0.7387" stop-color="#008fdd"/><stop offset="0.7406" stop-color="#008fdd"/><stop offset="0.7425" stop-color="#00d300"/><stop offset="0.7481" stop-color="#00d300"/><stop offset="0.75" stop-color="#0096dd"/><stop offset="0.7519" stop-color="#006ddd"/><stop offset="0.7538" stop-color="#006ddd"/><stop offset="0.7556" stop-color="#0096dd"/><stop offset="0.7575" stop-color="#0096dd"/><stop offset="0.7594" stop-color="#00d300"/><stop offset="0.765" stop-color="#00d300"/><stop offset="0.7669" stop-color="#009c00"/><stop offset="0.7801" stop-color="#009c00"/><stop offset="0.782" stop-color="#0c0"/><stop offset="0.7876" stop-color="#0c0"/><stop offset="0.7895" stop-color="#00a2c2"/><stop offset="0.7951" stop-color="#00a2c2"/><stop offset="0.797" stop-color="#0c0"/><stop offset="0.8026" stop-color="#0c0"/><stop offset="0.8045" stop-color="#009e29"/><stop offset="0.8102" stop-color="#009e29"/><stop offset="0.812" stop-color="#00a87a"/><stop offset="0.8177" stop-color="#00a87a"/><stop offset="0.8195" stop-color="#00a2c2"/><stop offset="0.8252" stop-color="#00a2c2"/><stop offset="0.8271" stop-color="#00d"/><stop offset="0.8289" stop-color="#4900a1"/><stop offset="0.8308" stop-color="#77009b"/><stop offset="0.8327" stop-color="#870098"/><stop offset="0.9154" stop-color="#7d008e"/><stop offset="0.9286" stop-color="#740085"/><stop offset="0.9568" stop-color="#3f0048"/><stop offset="0.9756" stop-color="#210026"/><stop offset="0.9868" stop-color="#150018"/><stop offset="1" stop-color="#110013"/></linearGradient>
<linearGradient id="l18" gradientUnits="userSpaceOnUse" x1="49" y1="0" x2="315" y2="0"><stop offset="0" stop-color="#120014"/><stop offset="0.1936" stop-color="#120014"/><stop offset="0.1992" stop-color="#240029"/><stop offset="0.2049" stop-color="#53005f"/><stop offset="0.2086" stop-color="#780089"/><stop offset="0.2199" stop-color="#809"/><stop offset="0.2237" stop-color="#00a"/><stop offset="0.2256" stop-color="#0000b8"/><stop offset="0.2312" stop-color="#0000d0"/><stop offset="0.2331" stop-color="#00d"/><stop offset="0.2368" stop-color="#0047dd"/><stop offset="0.2406" stop-color="#0071dd"/><stop offset="0.2444" stop-color="#0081dd"/><stop offset="0.3083" stop-color="#009adb"/><stop offset="0.4004" stop-color="#00aaa4"/><stop offset="0.4511" stop-color="#00aa8a"/><stop offset="0.4549" stop-color="#00a97e"/><stop offset="0.4699" stop-color="#00a244"/><stop offset="0.4944" stop-color="#009b11"/><stop offset="0.5169" stop-color="#009901"/><stop offset="0.5526" stop-color="#009b0e"/><stop offset="0.5789" stop-color="#00a352"/><stop offset="0.5883" stop-color="#00aa86"/><stop offset="0.6128" stop-color="#00a7b2"/><stop offset="0.6297" stop-color="#009adb"/><stop offset="0.6579" stop-color="#007add"/><stop offset="0.6598" stop-color="#07d"/><stop offset="0.6711" stop-color="#003cdd"/><stop offset="0.6805" stop-color="#00d"/><stop offset="0.6842" stop-color="#0000d3"/><stop offset="0.7293" stop-color="#0000b8"/><stop offset="0.7331" stop-color="#0000b4"/><stop offset="0.735" stop-color="#0000ae"/><stop offset="0.7368" stop-color="#0500a9"/><stop offset="0.7425" stop-color="#3600a3"/><stop offset="0.7444" stop-color="#0aa"/><stop offset="0.75" stop-color="#0aa"/><stop offset="0.7519" stop-color="#0000be"/><stop offset="0.7575" stop-color="#0000be"/><stop offset="0.7594" stop-color="#008bdd"/><stop offset="0.765" stop-color="#008bdd"/><stop offset="0.7669" stop-color="#00d"/><stop offset="0.7688" stop-color="#00d"/><stop offset="0.7707" stop-color="#008bdd"/><stop offset="0.7801" stop-color="#008bdd"/><stop offset="0.782" stop-color="#00aaa3"/><stop offset="0.7876" stop-color="#00aaa3"/><stop offset="0.7895" stop-color="#00d"/><stop offset="0.7951" stop-color="#00d"/><stop offset="0.797" stop-color="#00a3be"/><stop offset="0.8045" stop-color="#00a3be"/><stop offset="0.8064" stop-color="#0000c9"/><stop offset="0.8083" stop-color="#0000c9"/><stop offset="0.8102" stop-color="#3600a3"/><stop offset="0.812" stop-color="#0000c9"/><stop offset="0.8177" stop-color="#0000c9"/><stop offset="0.8195" stop-color="#3600a3"/><stop offset="0.8214" stop-color="#3600a3"/><stop offset="0.8233" stop-color="#65009d"/><stop offset="0.8252" stop-color="#870098"/><stop offset="0.8684" stop-color="#760087"/><stop offset="0.9342" stop-color="#2b0032"/><stop offset="0.9699" stop-color="#150018"/><stop offset="1" stop-color="#120014"/></linearGradient>
<linearGradient id="r18" gradientUnits="userSpaceOnUse" x1="329" y1="0" x2="595" y2="0"><stop offset="0" stop-color="#120014"/><stop offset="0.1936" stop-color="#120014"/><stop offset="0.1974" stop-color="#470052"/><stop offset="0.1992" stop-color="#6f007f"/><stop offset="0.2011" stop-color="#7c008d"/><stop offset="0.2049" stop-color="#830094"/><stop offset="0.2143" stop-color="#809"/><stop offset="0.218" stop-color="#00a"/><stop offset="0.2218" stop-color="#0000ce"/><stop offset="0.2237" stop-color="#0004dd"/><stop offset="0.2274" stop-color="#005fdd"/><stop offset="0.2293" stop-color="#007edd"/><stop offset="0.2387" stop-color="#0095dd"/><stop offset="0.2444" stop-color="#009bd8"/><stop offset="0.2669" stop-color="#0aa"/><stop offset="0.3609" stop-color="#00aa86"/><stop offset="0.3797" stop-color="#00a667"/><stop offset="0.3947" stop-color="#009e26"/><stop offset="0.4004" stop-color="#009a00"/><stop offset="0.4192" stop-color="#00c000"/><stop offset="0.4398" stop-color="#0c0"/><stop offset="0.5545" stop-color="#00d300"/><stop offset="0.5883" stop-color="#00c900"/><stop offset="0.5996" stop-color="#00b600"/><stop offset="0.609" stop-color="#009a00"/><stop offset="0.6128" stop-color="#009e29"/><stop offset="0.6165" stop-color="#00a457"/><stop offset="0.6203" stop-color="#00a97d"/><stop offset="0.6222" stop-color="#00aa8a"/><stop offset="0.6391" stop-color="#00a8af"/><stop offset="0.6598" stop-color="#0098dd"/><stop offset="0.703" stop-color="#007edd"/><stop offset="0.718" stop-color="#07d"/><stop offset="0.7368" stop-color="#0000dc"/><stop offset="0.7387" stop-color="#0089dd"/><stop offset="0.7406" stop-color="#0089dd"/><stop offset="0.7425" stop-color="#00c200"/><stop offset="0.7481" stop-color="#00c200"/><stop offset="0.75" stop-color="#008fdd"/><stop offset="0.7519" stop-color="#0056dd"/><stop offset="0.7538" stop-color="#0056dd"/><stop offset="0.7556" stop-color="#008fdd"/><stop offset="0.7575" stop-color="#008fdd"/><stop offset="0.7594" stop-color="#00c200"/><stop offset="0.765" stop-color="#00c200"/><stop offset="0.7669" stop-color="#00a036"/><stop offset="0.7801" stop-color="#00a036"/><stop offset="0.782" stop-color="#0b0"/><stop offset="0.7876" stop-color="#0b0"/><stop offset="0.7895" stop-color="#009ecd"/><stop offset="0.7951" stop-color="#009ecd"/><stop offset="0.797" stop-color="#0b0"/><stop offset="0.8026" stop-color="#0b0"/><stop offset="0.8045" stop-color="#00a76d"/><stop offset="0.8102" stop-color="#00a76d"/><stop offset="0.812" stop-color="#00aa96"/><stop offset="0.8177" stop-color="#00aa96"/><stop offset="0.8195" stop-color="#009ecd"/><stop offset="0.8252" stop-color="#009ecd"/><stop offset="0.8271" stop-color="#0000ce"/><stop offset="0.8289" stop-color="#4900a1"/><stop offset="0.8308" stop-color="#77009b"/><stop offset="0.8327" stop-color="#870098"/><stop offset="0.9154" stop-color="#7d008e"/><stop offset="0.9286" stop-color="#740085"/><stop offset="0.9568" stop-color="#3f0048"/><stop offset="0.9756" stop-color="#210026"/><stop offset="0.9868" stop-color="#150018"/><stop offset="1" stop-color="#110013"/></linearGradient>
<linearGradient id="l19" gradientUnits="userSpaceOnUse" x1="49" y1="0" x2="315" y2="0"><stop offset="0" stop-color="#18001b"/><stop offset="0.1898" stop-color="#1a001d"/><stop offset="0.2049" stop-color="#26002c"/><stop offset="0.4436" stop-color="#27002c"/><stop offset="0.4906" stop-color="#240029"/><stop offset="0.8383" stop-color="#1e0022"/><stop offset="1" stop-color="#120014"/></linearGradient>
<linearGradient id="r19" gradientUnits="userSpaceOnUse" x1="329" y1="0" x2="595" y2="0"><stop offset="0" stop-color="#120014"/><stop offset="0.203" stop-color="#120014"/><stop offset="0.2218" stop-color="#2b0031"/><stop offset="0.453" stop-color="#2e0034"/><stop offset="1" stop-color="#18001b"/></linearGradient>
<linearGradient id="l20" gradientUnits="userSpaceOnUse" x1="49" y1="0" x2="315" y2="0"><stop offset="0" stop-color="#120014"/><stop offset="0.188" stop-color="#120014"/><stop offset="0.1898" stop-color="#1d0021"/><stop offset="0.1917" stop-color="#37003f"/><stop offset="0.1955" stop-color="#780089"/><stop offset="0.1992" stop-color="#830094"/><stop offset="0.2011" stop-color="#7f009a"/><stop offset="0.203" stop-color="#5200a0"/><stop offset="0.2049" stop-color="#0000b4"/><stop offset="0.2068" stop-color="#00d"/><stop offset="0.2086" stop-color="#07d"/><stop offset="0.2105" stop-color="#09d"/><stop offset="0.2124" stop-color="#00aaa3"/><stop offset="0.2162" stop-color="#009b00"/><stop offset="0.2199" stop-color="#00c900"/><stop offset="0.2274" stop-color="#00f100"/><stop offset="0.2312" stop-color="#00fc00"/><stop offset="0.2331" stop-color="#0fff00"/><stop offset="0.2368" stop-color="#4bff00"/><stop offset="0.2462" stop-color="#b8ff00"/><stop offset="0.25" stop-color="#c4fc00"/><stop offset="0.2632" stop-color="#dff300"/><stop offset="0.2763" stop-color="#efec00"/><stop offset="0.297" stop-color="#f3e500"/><stop offset="0.3139" stop-color="#ebef00"/><stop offset="0.3327" stop-color="#d4f700"/><stop offset="0.3684" stop-color="#c5fc00"/><stop offset="0.4793" stop-color="#bdfe00"/><stop offset="0.4868" stop-color="#b5ff00"/><stop offset="0.5056" stop-color="#90ff00"/><stop offset="0.5564" stop-color="#0f0"/><stop offset="0.5977" stop-color="#00ea00"/><stop offset="0.6335" stop-color="#00bc00"/><stop offset="0.6429" stop-color="#00ab00"/><stop offset="0.6504" stop-color="#090"/><stop offset="0.6617" stop-color="#00a352"/><stop offset="0.6767" stop-color="#0a8"/><stop offset="0.7199" stop-color="#00a9ae"/><stop offset="0.7368" stop-color="#009cd3"/><stop offset="0.7425" stop-color="#009cd3"/><stop offset="0.7444" stop-color="#00a7b4"/><stop offset="0.7481" stop-color="#00a7b4"/><stop offset="0.75" stop-color="#009cd4"/><stop offset="0.7538" stop-color="#009cd5"/><stop offset="0.7556" stop-color="#0085dd"/><stop offset="0.7575" stop-color="#0085dd"/><stop offset="0.7594" stop-color="#009bd6"/><stop offset="0.7632" stop-color="#009bd6"/><stop offset="0.765" stop-color="#0085dd"/><stop offset="0.7669" stop-color="#0085dd"/><stop offset="0.7688" stop-color="#009bd7"/><stop offset="0.7726" stop-color="#009bd7"/><stop offset="0.7744" stop-color="#00a3be"/><stop offset="0.7763" stop-color="#00a3be"/><stop offset="0.7782" stop-color="#009bd8"/><stop offset="0.782" stop-color="#009bd8"/><stop offset="0.7838" stop-color="#0085dd"/><stop offset="0.7857" stop-color="#0085dd"/><stop offset="0.7876" stop-color="#009ad9"/><stop offset="0.7895" stop-color="#009ad9"/><stop offset="0.7914" stop-color="#00a3be"/><stop offset="0.7932" stop-color="#00a3be"/><stop offset="0.7951" stop-color="#009ada"/><stop offset="0.7989" stop-color="#009ada"/><stop offset="0.8008" stop-color="#0085dd"/><stop offset="0.8026" stop-color="#0085dd"/><stop offset="0.8045" stop-color="#009adb"/><stop offset="0.8083" stop-color="#009adb"/><stop offset="0.8102" stop-color="#00a7b4"/><stop offset="0.812" stop-color="#00a7b4"/><stop offset="0.8139" stop-color="#0099dc"/><stop offset="0.8158" stop-color="#0099dc"/><stop offset="0.8177" stop-color="#00a3be"/><stop offset="0.8195" stop-color="#00a3be"/><stop offset="0.8214" stop-color="#0079dd"/><stop offset="0.8233" stop-color="#000bdd"/><stop offset="0.8515" stop-color="#0000dc"/><stop offset="0.8816" stop-color="#0000d1"/><stop offset="0.9079" stop-color="#0000c0"/><stop offset="0.9211" stop-color="#00a"/><stop offset="0.9342" stop-color="#7a009b"/><stop offset="0.938" stop-color="#870099"/><stop offset="0.9662" stop-color="#7a008b"/><stop offset="0.9699" stop-color="#708"/><stop offset="0.9868" stop-color="#36003e"/><stop offset="1" stop-color="#120014"/></linearGradient>
<linearGradient id="r20" gradientUnits="userSpaceOnUse" x1="329" y1="0" x2="595" y2="0"><stop offset="0" stop-color="#110014"/><stop offset="0.2068" stop-color="#130015"/><stop offset="0.2293" stop-color="#19001c"/><stop offset="0.7538" stop-color="#17001a"/><stop offset="1" stop-color="#130016"/></linearGradient>
<linearGradient id="l21" gradientUnits="userSpaceOnUse" x1="49" y1="0" x2="315" y2="0"><stop offset="0" stop-color="#120014"/><stop offset="0.188" stop-color="#120014"/><stop offset="0.1898" stop-color="#1d0021"/><stop offset="0.1917" stop-color="#37003f"/><stop offset="0.1955" stop-color="#780089"/><stop offset="0.1992" stop-color="#830094"/><stop offset="0.2011" stop-color="#7f009a"/><stop offset="0.203" stop-color="#5200a0"/><stop offset="0.2049" stop-color="#0000b4"/><stop offset="0.2068" stop-color="#00d"/><stop offset="0.2086" stop-color="#07d"/><stop offset="0.2105" stop-color="#09d"/><stop offset="0.2124" stop-color="#00aaa3"/><stop offset="0.2162" stop-color="#009b00"/><stop offset="0.2199" stop-color="#00c900"/><stop offset="0.2274" stop-color="#00f100"/><stop offset="0.2312" stop-color="#00fc00"/><stop offset="0.2331" stop-color="#0fff00"/><stop offset="0.2368" stop-color="#4bff00"/><stop offset="0.2462" stop-color="#b8ff00"/><stop offset="0.25" stop-color="#c4fc00"/><stop offset="0.2632" stop-color="#dff300"/><stop offset="0.2763" stop-color="#efec00"/><stop offset="0.297" stop-color="#f3e500"/><stop offset="0.3139" stop-color="#ebef00"/><stop offset="0.3327" stop-color="#d4f700"/><stop offset="0.3684" stop-color="#c5fc00"/><stop offset="0.4793" stop-color="#bdfe00"/><stop offset="0.4868" stop-color="#b5ff00"/><stop offset="0.5056" stop-color="#90ff00"/><stop offset="0.5564" stop-color="#0f0"/><stop offset="0.5977" stop-color="#00ea00"/><stop offset="0.6335" stop-color="#00bc00"/><stop offset="0.6429" stop-color="#00ab00"/><stop offset="0.6504" stop-color="#090"/><stop offset="0.6617" stop-color="#00a352"/><stop offset="0.6767" stop-color="#0a8"/><stop offset="0.7199" stop-color="#00a9ae"/><stop offset="0.7368" stop-color="#009cd3"/><stop offset="0.7425" stop-color="#009cd3"/><stop offset="0.7444" stop-color="#00a7b4"/><stop offset="0.7481" stop-color="#00a7b4"/><stop offset="0.75" stop-color="#009cd4"/><stop offset="0.7538" stop-color="#009cd5"/><stop offset="0.7556" stop-color="#0085dd"/><stop offset="0.7575" stop-color="#0085dd"/><stop offset="0.7594" stop-color="#009bd6"/><stop offset="0.7632" stop-color="#009bd6"/><stop offset="0.765" stop-color="#0085dd"/><stop offset="0.7669" stop-color="#0085dd"/><stop offset="0.7688" stop-color="#009bd7"/><stop offset="0.7726" stop-color="#009bd7"/><stop offset="0.7744" stop-color="#00a3be"/><stop offset="0.7763" stop-color="#00a3be"/><stop offset="0.7782" stop-color="#009bd8"/><stop offset="0.782" stop-color="#009bd8"/><stop offset="0.7838" stop-color="#0085dd"/><stop offset="0.7857" stop-color="#0085dd"/><stop offset="0.7876" stop-color="#009ad9"/><stop offset="0.7895" stop-color="#009ad9"/><stop offset="0.7914" stop-color="#00a3be"/><stop offset="0.7932" stop-color="#00a3be"/><stop offset="0.7951" stop-color="#009ada"/><stop offset="0.7989" stop-color="#009ada"/><stop offset="0.8008" stop-color="#0085dd"/><stop offset="0.8026" stop-color="#0085dd"/><stop offset="0.8045" stop-color="#009adb"/><stop offset="0.8083" stop-color="#009adb"/><stop offset="0.8102" stop-color="#00a7b4"/><stop offset="0.812" stop-color="#00a7b4"/><stop offset="0.8139" stop-color="#0099dc"/><stop offset="0.8158" stop-color="#0099dc"/><stop offset="0.8177" stop-color="#00a3be"/><stop offset="0.8195" stop-color="#00a3be"/><stop offset="0.8214" stop-color="#0079dd"/><stop offset="0.8233" stop-color="#000bdd"/><stop offset="0.8515" stop-color="#0000dc"/><stop offset="0.8816" stop-color="#0000d1"/><stop offset="0.9079" stop-color="#0000c0"/><stop offset="0.9211" stop-color="#00a"/><stop offset="0.9342" stop-color="#7a009b"/><stop offset="0.938" stop-color="#870099"/><stop offset="0.9662" stop-color="#7a008b"/><stop offset="0.9699" stop-color="#708"/><stop offset="0.9868" stop-color="#36003e"/><stop offset="1" stop-color="#120014"/></linearGradient>
<linearGradient id="r21" gradientUnits="userSpaceOnUse" x1="329" y1="0" x2="595" y2="0"><stop offset="0" stop-color="#120014"/><stop offset="0.1823" stop-color="#120014"/><stop offset="0.1861" stop-color="#708"/><stop offset="0.1917" stop-color="#809"/><stop offset="0.1936" stop-color="#2900a5"/><stop offset="0.1955" stop-color="#0000be"/><stop offset="0.1974" stop-color="#0010dd"/><stop offset="0.1992" stop-color="#0067dd"/><stop offset="0.2011" stop-color="#008bdd"/><stop offset="0.203" stop-color="#00aaa0"/><stop offset="0.2049" stop-color="#090"/><stop offset="0.2086" stop-color="#00e400"/><stop offset="0.2105" stop-color="#00f600"/><stop offset="0.2124" stop-color="#32ff00"/><stop offset="0.2143" stop-color="#96ff00"/><stop offset="0.2162" stop-color="#b5ff00"/><stop offset="0.2199" stop-color="#cafa00"/><stop offset="0.2256" stop-color="#e4f100"/><stop offset="0.2331" stop-color="#efec00"/><stop offset="0.2669" stop-color="#ffc700"/><stop offset="0.2838" stop-color="#ffbe00"/><stop offset="0.3158" stop-color="#fbd400"/><stop offset="0.3383" stop-color="#f8da00"/><stop offset="0.4944" stop-color="#efeb00"/><stop offset="0.5338" stop-color="#e1f200"/><stop offset="0.5602" stop-color="#cafa00"/><stop offset="0.5714" stop-color="#bf0"/><stop offset="0.5771" stop-color="#9bff00"/><stop offset="0.594" stop-color="#25ff00"/><stop offset="0.6015" stop-color="#0f0"/><stop offset="0.6316" stop-color="#00e100"/><stop offset="0.656" stop-color="#00be00"/><stop offset="0.6711" stop-color="#00a500"/><stop offset="0.6842" stop-color="#090"/><stop offset="0.688" stop-color="#009b0e"/><stop offset="0.718" stop-color="#009c1b"/><stop offset="0.7425" stop-color="#090"/><stop offset="0.7444" stop-color="#00e400"/><stop offset="0.7481" stop-color="#00e400"/><stop offset="0.75" stop-color="#009b00"/><stop offset="0.7538" stop-color="#009b00"/><stop offset="0.7556" stop-color="#00a76d"/><stop offset="0.7594" stop-color="#00a76d"/><stop offset="0.7613" stop-color="#009c00"/><stop offset="0.765" stop-color="#009d00"/><stop offset="0.7669" stop-color="#00f100"/><stop offset="0.7726" stop-color="#00f100"/><stop offset="0.7744" stop-color="#009f00"/><stop offset="0.7801" stop-color="#009f00"/><stop offset="0.782" stop-color="#00a76d"/><stop offset="0.7838" stop-color="#00a76d"/><stop offset="0.7857" stop-color="#00a000"/><stop offset="0.7895" stop-color="#00a100"/><stop offset="0.7914" stop-color="#00f100"/><stop offset="0.797" stop-color="#00f100"/><stop offset="0.7989" stop-color="#00a300"/><stop offset="0.8026" stop-color="#00a300"/><stop offset="0.8045" stop-color="#0d0"/><stop offset="0.8083" stop-color="#0d0"/><stop offset="0.8102" stop-color="#00a400"/><stop offset="0.8139" stop-color="#00a500"/><stop offset="0.8158" stop-color="#0f0"/><stop offset="0.8195" stop-color="#0f0"/><stop offset="0.8214" stop-color="#00a600"/><stop offset="0.8233" stop-color="#00a700"/><stop offset="0.8252" stop-color="#00aa96"/><stop offset="0.8571" stop-color="#00aaa7"/><stop offset="0.8835" stop-color="#009fcc"/><stop offset="0.9041" stop-color="#0098dd"/><stop offset="0.9192" stop-color="#008bdd"/><stop offset="0.9361" stop-color="#07d"/><stop offset="0.9511" stop-color="#00d"/><stop offset="0.9643" stop-color="#0000be"/><stop offset="0.9662" stop-color="#0000ad"/><stop offset="0.968" stop-color="#2400a5"/><stop offset="0.9699" stop-color="#5200a0"/><stop offset="0.9756" stop-color="#809"/><stop offset="1" stop-color="#830094"/></linearGradient>
<clipPath id="cl"><rect x="49" y="28" width="266" height="368"/></clipPath>
<clipPath id="cr"><rect x="329" y="28" width="266" height="368"/></clipPath>
</defs>
<g shape-rendering="crispEdges">
<rect x="49" y="28.000" width="266" height="17.027" fill="url(#l0)"/><rect x="329" y="28.000" width="266" height="17.027" fill="url(#r0)"/>
<rect x="49" y="44.727" width="266" height="17.027" fill="url(#l1)"/><rect x="329" y="44.727" width="266" height="17.027" fill="url(#r1)"/>
<rect x="49" y="61.455" width="266" height="17.027" fill="url(#l2)"/><rect x="329" y="61.455" width="266" height="17.027" fill="url(#r2)"/>
<rect x="49" y="78.182" width="266" height="17.027" fill="url(#l3)"/><rect x="329" y="78.182" width="266" height="17.027" fill="url(#r3)"/>
<rect x="49" y="94.909" width="266" height="17.027" fill="url(#l4)"/><rect x="329" y="94.909" width="266" height="17.027" fill="url(#r4)"/>
<rect x="49" y="111.636" width="266" height="17.027" fill="url(#l5)"/><rect x="329" y="111.636" width="266" height="17.027" fill="url(#r5)"/>
<rect x="49" y="128.364" width="266" height="17.027" fill="url(#l6)"/><rect x="329" y="128.364" width="266" height="17.027" fill="url(#r6)"/>
<rect x="49" y="145.091" width="266" height="17.027" fill="url(#l7)"/><rect x="329" y="145.091" width="266" height="17.027" fill="url(#r7)"/>
<rect x="49" y="161.818" width="266" height="17.027" fill="url(#l8)"/><rect x="329" y="161.818" width="266" height="17.027" fill="url(#r8)"/>
<rect x="49" y="178.545" width="266" height="17.027" fill="url(#l9)"/><rect x="329" y="178.545" width="266" height="17.027" fill="url(#r9)"/>
<rect x="49" y="195.273" width="266" height="17.027" fill="url(#l10)"/><rect x="329" y="195.273" width="266" height="17.027" fill="url(#r10)"/>
<rect x="49" y="212.000" width="266" height="17.027" fill="url(#l11)"/><rect x="329" y="212.000" width="266" height="17.027" fill="url(#r11)"/>
<rect x="49" y="228.727" width="266" height="17.027" fill="url(#l12)"/><rect x="329" y="228.727" width="266" height="17.027" fill="url(#r12)"/>
<rect x="49" y="245.455" width="266" height="17.027" fill="url(#l13)"/><rect x="329" y="245.455" width="266" height="17.027" fill="url(#r13)"/>
<rect x="49" y="262.182" width="266" height="17.027" fill="url(#l14)"/><rect x="329" y="262.182" width="266" height="17.027" fill="url(#r14)"/>
<rect x="49" y="278.909" width="266" height="17.027" fill="url(#l15)"/><rect x="329" y="278.909" width="266" height="17.027" fill="url(#r15)"/>
<rect x="49" y="295.636" width="266" height="17.027" fill="url(#l16)"/><rect x="329" y="295.636" width="266" height="17.027" fill="url(#r16)"/>
<rect x="49" y="312.364" width="266" height="17.027" fill="url(#l17)"/><rect x="329" y="312.364" width="266" height="17.027" fill="url(#r17)"/>
<rect x="49" y="329.091" width="266" height="17.027" fill="url(#l18)"/><rect x="329" y="329.091" width="266" height="17.027" fill="url(#r18)"/>
<rect x="49" y="345.818" width="266" height="17.027" fill="url(#l19)"/><rect x="329" y="345.818" width="266" height="17.027" fill="url(#r19)"/>
<rect x="49" y="362.545" width="266" height="17.027" fill="url(#l20)"/><rect x="329" y="362.545" width="266" height="17.027" fill="url(#r20)"/>
<rect x="49" y="379.273" width="266" height="16.727" fill="url(#l21)"/><rect x="329" y="379.273" width="266" height="16.727" fill="url(#r21)"/>
</g>
<rect x="48.9" y="285" width="1.1" height="111" fill="#7b008a"/><rect x="328.8" y="284" width="1" height="112" fill="#7b008a"/>
<rect x="148" y="212.2" width="1.1" height="16.3" fill="#00ee00"/><rect x="156.2" y="295.4" width="2.8" height="17" rx="0.8" fill="#1fc400"/><rect x="156.9" y="296.2" width="1.4" height="15.4" fill="#9cf400"/><rect x="428" y="212.2" width="1.1" height="16.3" fill="#00ee00"/><rect x="437" y="295.8" width="1.2" height="16.4" fill="#5fee00"/>
<rect x="69.5" y="42.45" width="5" height="1.1" fill="#fff"/><text class="wl" x="79.4" y="48.05">25</text><rect x="349.5" y="42.45" width="5" height="1.1" fill="#fff"/><text class="wl" x="359.4" y="48.05">25</text><text class="wl" clip-path="url(#cl)" text-anchor="end" x="319.2" y="48.05">25</text>
<rect x="69.5" y="90.60" width="5" height="1.1" fill="#fff"/><text class="wl" x="79.4" y="96.20">20</text><rect x="349.5" y="90.60" width="5" height="1.1" fill="#fff"/><text class="wl" x="359.4" y="96.20">20</text><text class="wl" clip-path="url(#cl)" text-anchor="end" x="319.2" y="96.20">20</text>
<rect x="69.5" y="138.75" width="5" height="1.1" fill="#fff"/><text class="wl" x="79.4" y="144.35">15</text><rect x="349.5" y="138.75" width="5" height="1.1" fill="#fff"/><text class="wl" x="359.4" y="144.35">15</text><text class="wl" clip-path="url(#cl)" text-anchor="end" x="319.2" y="144.35">15</text>
<rect x="69.5" y="186.90" width="5" height="1.1" fill="#fff"/><text class="wl" x="79.4" y="192.50">10</text><rect x="349.5" y="186.90" width="5" height="1.1" fill="#fff"/><text class="wl" x="359.4" y="192.50">10</text><text class="wl" clip-path="url(#cl)" text-anchor="end" x="319.2" y="192.50">10</text>
<rect x="69.5" y="235.05" width="5" height="1.1" fill="#fff"/><text class="wl" x="79.4" y="240.65">5</text><rect x="349.5" y="235.05" width="5" height="1.1" fill="#fff"/><text class="wl" x="359.4" y="240.65">5</text><text class="wl" clip-path="url(#cl)" text-anchor="end" x="319.2" y="240.65">5</text>
<text class="wl" x="79.4" y="288.80">0</text><text class="wl" x="359.4" y="288.80">0</text><text class="wl" clip-path="url(#cl)" text-anchor="end" x="319.2" y="288.80">0</text>
<g fill="#fff" stroke="#fff" stroke-linejoin="round" stroke-linecap="round">
<path d="M50 -5V284" fill="none" stroke-width="2.6"/><path d="M330 -5V283" fill="none" stroke-width="2.6"/>
<path d="M40 284H101" fill="none" stroke-width="3.2"/><path d="M320 282.8H381" fill="none" stroke-width="3.4"/><path d="M335 284.4L345 284.6L360 284.2" fill="none" stroke-width="1.2"/>
<polygon stroke-width="0.6" points="99.00,282.50 102.00,278.00 105.00,262.00 108.00,243.00 110.60,225.00 112.50,211.00 115.50,202.00 118.75,195.00 121.25,191.25 126.25,187.50 131.25,182.50 135.00,186.25 140.00,185.60 145.00,188.75 147.25,188.75 147.25,116.25 149.40,116.25 149.60,107.25 151.40,107.25 151.90,118.00 152.20,186.00 154.20,185.00 154.50,-5.00 157.20,-5.00 157.30,103.00 159.00,103.00 159.30,178.00 160.00,177.50 165.00,172.50 172.50,167.50 178.75,163.10 185.00,158.75 189.00,157.50 193.10,158.10 196.90,162.50 200.00,168.75 203.75,175.00 207.50,181.25 211.25,188.75 215.00,197.50 220.00,205.00 223.75,213.75 230.00,222.50 235.00,230.00 238.00,234.50 239.60,236.00 239.90,227.00 241.40,227.00 241.80,238.00 245.60,240.00 246.10,166.90 249.00,166.90 250.50,202.50 252.00,193.75 254.00,182.50 256.50,175.00 258.50,178.75 260.50,190.00 262.00,178.75 264.00,185.00 265.00,207.50 267.40,215.00 268.75,228.00 269.50,243.75 270.00,262.50 272.50,268.00 280.00,271.25 283.75,272.50 295.00,275.60 302.50,280.50 307.50,282.00 316.00,282.50 316.00,285.50 307.00,285.30 300.00,283.30 290.00,278.75 277.50,275.00 268.30,272.00 268.00,266.00 263.00,256.00 262.00,250.00 261.00,257.50 259.00,257.50 257.50,243.75 256.00,248.00 252.00,248.00 251.00,253.75 249.00,253.75 248.00,247.00 247.00,247.00 246.00,254.00 243.75,252.50 240.00,246.25 235.00,242.50 232.50,235.00 228.75,231.25 223.75,227.50 221.25,222.50 217.50,212.50 212.50,205.00 208.75,197.00 206.00,194.00 203.00,189.00 200.00,182.50 197.50,177.50 192.50,172.50 186.25,170.00 181.25,173.75 175.00,178.75 171.25,185.00 165.00,187.50 157.50,192.50 152.50,196.90 145.00,200.60 136.25,201.25 130.00,203.75 123.75,208.75 120.00,212.50 116.25,225.00 114.00,232.00 111.50,246.00 108.70,262.00 106.30,277.00 104.00,284.00 101.00,285.60"/>
<polygon stroke-width="0.6" points="379.00,281.00 381.00,279.00 382.50,270.00 384.00,260.00 386.00,248.00 388.00,235.00 390.60,215.00 395.00,197.50 398.75,182.50 403.75,178.75 410.00,171.25 413.75,166.25 414.40,159.00 416.60,158.75 417.50,165.00 419.40,165.00 419.80,159.00 421.80,159.00 422.60,166.00 426.60,163.00 426.90,125.00 429.90,125.00 430.00,101.25 431.90,101.25 432.60,110.00 433.10,76.00 434.90,76.00 435.00,72.50 437.20,72.50 437.30,107.00 439.00,107.00 440.00,150.00 443.75,148.75 446.30,146.00 447.50,142.00 448.70,146.00 450.00,145.00 453.75,138.75 457.50,133.75 461.25,135.00 465.00,132.00 468.75,133.75 472.50,131.25 476.25,136.25 480.00,142.50 483.75,150.00 488.75,158.75 492.50,167.50 496.25,177.50 500.00,180.00 502.50,188.75 506.25,196.25 511.25,200.00 515.00,208.75 517.50,212.50 519.60,211.00 520.00,205.60 521.30,205.60 521.80,209.00 523.60,206.00 524.90,202.50 526.00,195.00 526.10,126.25 529.25,126.25 530.50,147.50 530.70,130.60 533.40,130.60 534.00,145.00 536.00,145.00 536.75,140.60 538.75,140.60 539.00,142.00 539.60,138.50 541.50,138.00 543.75,140.00 545.00,157.50 546.75,170.00 549.00,181.00 550.00,195.00 550.60,207.50 550.75,251.25 555.00,256.25 562.50,261.25 570.00,265.00 577.50,268.00 582.50,273.75 587.50,278.75 592.50,280.00 596.00,280.50 596.00,284.00 590.00,283.30 585.00,281.25 580.00,277.50 575.00,273.00 567.50,270.00 561.25,267.50 555.00,262.50 551.00,260.00 548.00,257.20 547.00,252.00 546.50,225.00 546.10,200.00 545.50,190.00 542.50,182.50 541.75,190.00 541.75,215.00 541.60,223.00 539.75,223.00 538.60,205.00 538.00,197.00 537.00,199.40 535.00,199.40 534.50,189.40 533.30,189.40 532.75,195.00 532.50,212.00 533.00,222.50 531.00,222.50 530.50,227.50 530.00,225.00 528.00,225.00 527.40,230.00 526.50,234.40 524.25,232.50 521.75,226.25 518.00,224.40 513.00,215.00 508.75,211.00 503.75,206.00 498.75,196.00 493.75,187.50 491.25,182.50 488.75,176.25 483.75,166.25 478.75,158.75 472.50,152.50 467.50,148.75 462.50,150.00 457.50,152.50 452.50,157.50 447.50,161.25 441.25,170.00 433.75,175.00 430.00,177.50 425.00,182.50 420.00,185.00 411.25,186.90 405.00,190.00 398.75,197.50 395.00,215.00 392.50,228.00 390.00,242.00 388.00,254.00 386.00,265.00 384.50,274.00 383.00,281.00 381.00,284.30"/>
<polyline fill="none" stroke-width="2.1" points="380.00,283.00 383.00,282.50 387.50,280.60 392.50,276.90 396.00,275.00 400.00,273.75 410.00,272.00 420.00,272.50 440.00,273.75 470.00,275.75 500.00,277.50 530.00,279.40 550.00,280.20 575.00,281.50 596.00,282.30"/>
</g>
<g fill="none" stroke-linecap="round" stroke-linejoin="round"><path d="M121 192.6L126 189.2L130.8 185.4M133 187.6L136 189" stroke="#00a6b4" stroke-width="1"/><path d="M127.5 196.2L134 193.6L140 192.6L145.5 193.2M134 200.3L140 199L147 198.4L151.5 196.4" stroke="#00a9a6" stroke-width=".9"/><path d="M163 184.5L168 181.5L172 179.8" stroke="#00a26a" stroke-width=".8"/><path d="M192.6 160.2l1.2 1.3" stroke="#009c08" stroke-width="1.3"/><path d="M403 184.5L408 181L413 178.6M407 186.5L413 183.6L419 181.8" stroke="#00a99c" stroke-width=".9"/><path d="M457.2 138.3l1.4-.5M460.6 137.9l1-.6M466.7 141l1.3 1.8M467 145.2l.8.4M456.9 147.2l2.4.9l2.3.2M463.2 148l.8-.2M471 148.4l1.9.8l1.8 1.1M447.6 157.6l1.4-1.2M477.4 152.6l2.2 2.4M482.6 158.2l1.6 2.6" stroke="#00c400" stroke-width=".9"/><path d="M471.9 135l1.5-1.6l1.2 2.2z" fill="#00c800" stroke="#00c800" stroke-width=".5"/></g>
<text class="tt" x="182" y="15.4">13.1 (LBE1=2033) X</text><text class="tt" x="462" y="15.4">13.1 (LBE1=2033) Y</text>
<text class="yl" text-anchor="end" x="32" y="42.30">On</text><text class="yl" x="611.7" y="42.30">On</text>
<text class="yl" text-anchor="end" x="32" y="58.95">Y</text><text class="yl" x="611.7" y="58.95">Y</text>
<text class="yl" text-anchor="end" x="32" y="75.60">Off</text><text class="yl" x="611.7" y="75.60">Off</text>
<text class="yl" text-anchor="end" x="32" y="92.25">P</text><text class="yl" x="611.7" y="92.25">P</text>
<text class="yl" text-anchor="end" x="32" y="108.90">O</text><text class="yl" x="611.7" y="108.90">O</text>
<text class="yl" text-anchor="end" x="32" y="125.55">N</text><text class="yl" x="611.7" y="125.55">N</text>
<text class="yl" text-anchor="end" x="32" y="142.20">M</text><text class="yl" x="611.7" y="142.20">M</text>
<text class="yl" text-anchor="end" x="32" y="158.85">L</text><text class="yl" x="611.7" y="158.85">L</text>
<text class="yl" text-anchor="end" x="32" y="175.50">K</text><text class="yl" x="611.7" y="175.50">K</text>
<text class="yl" text-anchor="end" x="32" y="192.15">J</text><text class="yl" x="611.7" y="192.15">J</text>
<text class="yl" text-anchor="end" x="32" y="208.80">I</text><text class="yl" x="611.7" y="208.80">I **</text>
<text class="yl" text-anchor="end" x="32" y="225.45">H</text><text class="yl" x="611.7" y="225.45">H</text>
<text class="yl" text-anchor="end" x="32" y="242.10">G</text><text class="yl" x="611.7" y="242.10">G</text>
<text class="yl" text-anchor="end" x="32" y="258.75">F</text><text class="yl" x="611.7" y="258.75">F</text>
<text class="yl" text-anchor="end" x="32" y="275.40">E</text><text class="yl" x="611.7" y="275.40">E</text>
<text class="yl" text-anchor="end" x="32" y="292.05">D</text><text class="yl" x="611.7" y="292.05">D</text>
<text class="yl" text-anchor="end" x="32" y="308.70">C</text><text class="yl" x="611.7" y="308.70">C</text>
<text class="yl" text-anchor="end" x="32" y="325.35">B</text><text class="yl" x="611.7" y="325.35">B</text>
<text class="yl" text-anchor="end" x="32" y="342.00">A</text><text class="yl" x="611.7" y="342.00">A</text>
<text class="yl" text-anchor="end" x="32" y="358.65">Off</text><text class="yl" x="611.7" y="358.65">Off</text>
<text class="yl" text-anchor="end" x="32" y="375.30">X</text><text class="yl" x="611.7" y="375.30">X</text>
<text class="yl" text-anchor="end" x="32" y="391.95">On</text><text class="yl" x="611.7" y="391.95">On</text>
<text class="yl" text-anchor="middle" transform="translate(3.2 217) rotate(-90)">Dipole</text>
<g stroke="#fff" fill="none"><path d="M25.2 35.2V40.2M25.7 82.5V88.3" stroke-width="1.8"/><path d="M24.3 134.4V142" stroke-width="1"/><path d="M31 183V191" stroke-width="1.2"/></g>
<rect x="48.85" y="408" width="1.1" height="5" fill="#222"/><text class="xl" transform="translate(48.60 426.4) scale(.9 1)">0</text><rect x="89.53" y="408" width="1.1" height="5" fill="#222"/><text class="xl" transform="translate(89.28 426.4) scale(.9 1)">50</text><rect x="130.21" y="408" width="1.1" height="5" fill="#222"/><text class="xl" transform="translate(129.96 426.4) scale(.9 1)">100</text><rect x="170.89" y="408" width="1.1" height="5" fill="#222"/><text class="xl" transform="translate(170.64 426.4) scale(.9 1)">150</text><rect x="211.57" y="408" width="1.1" height="5" fill="#222"/><text class="xl" transform="translate(211.32 426.4) scale(.9 1)">200</text><rect x="252.25" y="408" width="1.1" height="5" fill="#222"/><text class="xl" transform="translate(252.00 426.4) scale(.9 1)">250</text><rect x="292.93" y="408" width="1.1" height="5" fill="#222"/><text class="xl" transform="translate(292.68 426.4) scale(.9 1)">300</text>
<rect x="328.85" y="408" width="1.1" height="5" fill="#222"/><text class="xl" transform="translate(328.60 426.4) scale(.9 1)">0</text><rect x="369.53" y="408" width="1.1" height="5" fill="#222"/><text class="xl" transform="translate(369.28 426.4) scale(.9 1)">50</text><rect x="410.21" y="408" width="1.1" height="5" fill="#222"/><text class="xl" transform="translate(409.96 426.4) scale(.9 1)">100</text><rect x="450.89" y="408" width="1.1" height="5" fill="#222"/><text class="xl" transform="translate(450.64 426.4) scale(.9 1)">150</text><rect x="491.57" y="408" width="1.1" height="5" fill="#222"/><text class="xl" transform="translate(491.32 426.4) scale(.9 1)">200</text><rect x="532.25" y="408" width="1.1" height="5" fill="#222"/><text class="xl" transform="translate(532.00 426.4) scale(.9 1)">250</text><rect x="572.93" y="408" width="1.1" height="5" fill="#222"/><text class="xl" transform="translate(572.68 426.4) scale(.9 1)">300</text>
</svg>
</body></html>
